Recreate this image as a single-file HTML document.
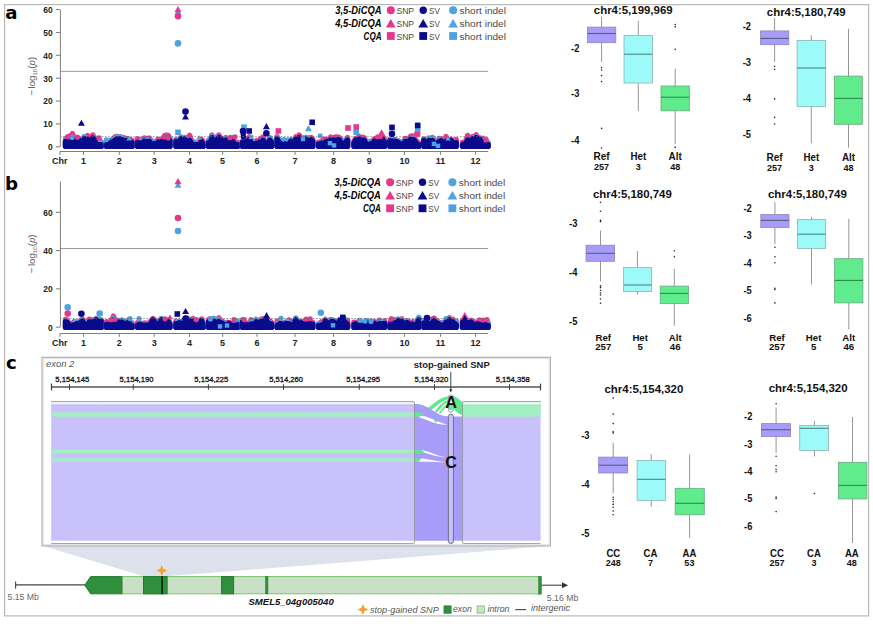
<!DOCTYPE html>
<html lang="en"><head><meta charset="utf-8"><title>GWAS of chlorogenic acids: Manhattan plots, allele boxplots and SMEL5_04g005040 stop-gained SNP</title>
<style>html,body{margin:0;padding:0;background:#fff}svg{display:block}</style></head><body>
<svg width="873" height="624" viewBox="0 0 873 624">
<rect width="873" height="624" fill="#fff"/>
<rect x="4.6" y="4.6" width="864" height="611.3" fill="#fff" stroke="#b9b9b9" stroke-width="1.2"/>
<text x="5.3" y="18.6" font-family='"DejaVu Sans", "Liberation Sans", sans-serif' font-size="18.2" font-weight="bold" fill="#000">a</text>
<line x1="60" y1="71.33" x2="488.2" y2="71.33" stroke="#999" stroke-width="1"/>
<path d="M65.6 146.3L65.6 138.71L67.3 138.41L69 136.54L70.7 140.48L72.4 133.74L74.1 139.73L75.8 139.06L77.5 139.81L79.2 138.97L80.9 140.95L82.6 142.39L84.3 136.9L86 138.46L87.7 135.78L89.4 138.91L91.1 139.71L92.8 135.24L94.5 138.17L96.2 141.44L97.9 142.95L99.6 140.17L101.3 142.21L101.3 146.3Z" fill="#e8368f" stroke="#e8368f" stroke-width="5.6" stroke-linejoin="round"/>
<path d="M65.6 146.3L65.6 140.67L67.3 138.11L69 139.91L70.7 141.44L72.4 139.31L74.1 144.31L75.8 142.94L77.5 140.21L79.2 140.36L80.9 143.6L82.6 142.5L84.3 136.68L86 142.3L87.7 140.71L89.4 141.14L91.1 143L92.8 139L94.5 137.8L96.2 142.38L97.9 143.89L99.6 145.2L101.3 142.56L101.3 146.3Z" fill="#4da3e2" stroke="#4da3e2" stroke-width="5.6" stroke-linejoin="round"/>
<path d="M65.6 146.3L65.6 141.7L67.3 140.61L69 139.26L70.7 143.32L72.4 138.57L74.1 143.01L75.8 142.71L77.5 141.32L79.2 140.6L80.9 142.47L82.6 144.21L84.3 138.59L86 141.76L87.7 139.48L89.4 141.4L91.1 142.15L92.8 138.18L94.5 139.83L96.2 144.74L97.9 144.74L99.6 144.74L101.3 144.73L101.3 146.3Z" fill="#0a0a8c" stroke="#0a0a8c" stroke-width="5.6" stroke-linejoin="round"/>
<path d="M106.6 146.3L106.6 141.98L108.3 141.97L110 140.7L111.7 139.93L113.4 139.43L115.1 136.92L116.8 136.47L118.5 137.48L120.2 136.8L121.9 141.47L123.6 137.64L125.3 140.7L127 138.62L128.7 139.36L130.4 142.94L132.1 140.27L132.1 146.3Z" fill="#e8368f" stroke="#e8368f" stroke-width="5.6" stroke-linejoin="round"/>
<path d="M106.6 146.3L106.6 139.94L108.3 143.31L110 142.62L111.7 140.09L113.4 140.56L115.1 138.83L116.8 137.07L118.5 138.42L120.2 136.89L121.9 144.11L123.6 138.18L125.3 140.65L127 140.96L128.7 141.01L130.4 145.02L132.1 143.12L132.1 146.3Z" fill="#4da3e2" stroke="#4da3e2" stroke-width="5.6" stroke-linejoin="round"/>
<path d="M106.6 146.3L106.6 144.74L108.3 144.74L110 143.84L111.7 142.04L113.4 141.47L115.1 140.22L116.8 138.92L118.5 138.8L120.2 139.08L121.9 143.35L123.6 140.25L125.3 142.36L127 140.67L128.7 142.34L130.4 144.55L132.1 142.82L132.1 146.3Z" fill="#0a0a8c" stroke="#0a0a8c" stroke-width="5.6" stroke-linejoin="round"/>
<path d="M137.6 146.3L137.6 138.76L139.3 142.55L141 140.17L142.7 140.27L144.4 138.08L146.1 138.82L147.8 138.56L149.5 138.35L151.2 141.13L152.9 141.59L154.6 142.33L156.3 142.27L158 139.5L159.7 143.03L161.4 139.68L163.1 140.49L164.8 135.43L166.5 135.29L168.2 135.55L169.9 138.64L169.9 146.3Z" fill="#e8368f" stroke="#e8368f" stroke-width="5.6" stroke-linejoin="round"/>
<path d="M137.6 146.3L137.6 141.87L139.3 143.1L141 141.33L142.7 144.51L144.4 140.47L146.1 140.94L147.8 140.15L149.5 141.02L151.2 144.43L152.9 141.29L154.6 144.61L156.3 143.29L158 141.75L159.7 145.15L161.4 141.31L163.1 144.24L164.8 138.54L166.5 137.24L168.2 138.04L169.9 138.67L169.9 146.3Z" fill="#4da3e2" stroke="#4da3e2" stroke-width="5.6" stroke-linejoin="round"/>
<path d="M137.6 146.3L137.6 142.21L139.3 144.37L141 142.99L142.7 143.44L144.4 141.21L146.1 142.02L147.8 141.5L149.5 141.63L151.2 144.26L152.9 143.99L154.6 143.72L156.3 143.82L158 142.18L159.7 144.74L161.4 142.01L163.1 143.49L164.8 137.77L166.5 139.63L168.2 138.46L169.9 141.01L169.9 146.3Z" fill="#0a0a8c" stroke="#0a0a8c" stroke-width="5.6" stroke-linejoin="round"/>
<path d="M176 146.3L176 139.88L177.7 139.94L179.4 139.13L181.1 137.27L182.8 138.65L184.5 137.59L186.2 140.53L187.9 138.82L189.6 135.41L191.3 140.48L193 142.35L194.7 143.06L196.4 143.36L198.1 142.52L199.8 142.04L201.5 139.56L203.2 141.65L203.2 146.3Z" fill="#e8368f" stroke="#e8368f" stroke-width="5.6" stroke-linejoin="round"/>
<path d="M176 146.3L176 141.07L177.7 142.99L179.4 139.8L181.1 137.27L182.8 141.26L184.5 137.74L186.2 141.85L187.9 144.1L189.6 140.01L191.3 144.46L193 144L194.7 142.27L196.4 144.44L198.1 144.57L199.8 145.2L201.5 142.57L203.2 143.44L203.2 146.3Z" fill="#4da3e2" stroke="#4da3e2" stroke-width="5.6" stroke-linejoin="round"/>
<path d="M176 146.3L176 141.65L177.7 142.05L179.4 141.7L181.1 139L182.8 140.56L184.5 139.13L186.2 143.5L187.9 143.32L189.6 140.49L191.3 143.15L193 144.74L194.7 144.74L196.4 144.74L198.1 144.74L199.8 144.74L201.5 141.65L203.2 144.74L203.2 146.3Z" fill="#0a0a8c" stroke="#0a0a8c" stroke-width="5.6" stroke-linejoin="round"/>
<path d="M208.6 146.3L208.6 140.28L210.3 140.73L212 135.19L213.7 141.27L215.4 141.05L217.1 137.06L218.8 135.2L220.5 137.75L222.2 139.91L223.9 138.81L225.6 137.79L227.3 140.78L229 138.42L230.7 138.29L232.4 138.24L234.1 141.47L235.8 142.55L237.5 142.57L237.5 146.3Z" fill="#e8368f" stroke="#e8368f" stroke-width="5.6" stroke-linejoin="round"/>
<path d="M208.6 146.3L208.6 140.54L210.3 142.76L212 136.23L213.7 144.34L215.4 143.9L217.1 137.07L218.8 139.05L220.5 140.05L222.2 143.55L223.9 141.25L225.6 138.85L227.3 145.2L229 142.92L230.7 139.53L232.4 137.74L234.1 143.86L235.8 145.2L237.5 144.47L237.5 146.3Z" fill="#4da3e2" stroke="#4da3e2" stroke-width="5.6" stroke-linejoin="round"/>
<path d="M208.6 146.3L208.6 142.83L210.3 143.35L212 137.77L213.7 143.79L215.4 142.71L217.1 139.45L218.8 137.77L220.5 139.1L222.2 142.19L223.9 141.15L225.6 140.2L227.3 144.37L229 141.52L230.7 139.7L232.4 140L234.1 144.74L235.8 144.74L237.5 144.74L237.5 146.3Z" fill="#0a0a8c" stroke="#0a0a8c" stroke-width="5.6" stroke-linejoin="round"/>
<path d="M242.6 146.3L242.6 141.22L244.3 138.77L246 139.32L247.7 139.61L249.4 137.01L251.1 140.09L252.8 141.82L254.5 143.28L256.2 141.07L257.9 142.59L259.6 139.48L261.3 138.69L263 137.2L264.7 142.52L266.4 142.7L268.1 141.8L269.8 137.89L271.5 140.99L271.5 146.3Z" fill="#e8368f" stroke="#e8368f" stroke-width="5.6" stroke-linejoin="round"/>
<path d="M242.6 146.3L242.6 142.46L244.3 144.21L246 141.51L247.7 143.69L249.4 140.28L251.1 141.92L252.8 142.02L254.5 145.2L256.2 143.7L257.9 145.2L259.6 143.18L261.3 141.21L263 140.19L264.7 142.19L266.4 144.81L268.1 141.77L269.8 138.78L271.5 141.65L271.5 146.3Z" fill="#4da3e2" stroke="#4da3e2" stroke-width="5.6" stroke-linejoin="round"/>
<path d="M242.6 146.3L242.6 142.61L244.3 142.97L246 141.88L247.7 142.4L249.4 139.55L251.1 143.01L252.8 144.21L254.5 144.74L256.2 143.33L257.9 144.29L259.6 142.17L261.3 142.53L263 140.4L264.7 144.43L266.4 144.71L268.1 143.45L269.8 140.31L271.5 142.29L271.5 146.3Z" fill="#0a0a8c" stroke="#0a0a8c" stroke-width="5.6" stroke-linejoin="round"/>
<path d="M277.1 146.3L277.1 136.89L278.8 139.4L280.5 140.95L282.2 141.96L283.9 142.49L285.6 142.5L287.3 142.54L289 143.1L290.7 139.72L292.4 139.89L294.1 141.66L295.8 137L297.5 139.7L299.2 135.16L300.9 140.24L302.6 142.82L304.3 137.75L306 137.93L307.7 141.15L309.4 138.06L311.1 137.68L312.8 139.25L312.8 146.3Z" fill="#e8368f" stroke="#e8368f" stroke-width="5.6" stroke-linejoin="round"/>
<path d="M277.1 146.3L277.1 137.85L278.8 140.03L280.5 143.54L282.2 144.8L283.9 139.94L285.6 142.4L287.3 140.31L289 145.2L290.7 141.89L292.4 140.02L294.1 144.93L295.8 140.65L297.5 141.22L299.2 139.32L300.9 142.25L302.6 142.76L304.3 140.45L306 137.31L307.7 144.16L309.4 139.36L311.1 141.02L312.8 142.57L312.8 146.3Z" fill="#4da3e2" stroke="#4da3e2" stroke-width="5.6" stroke-linejoin="round"/>
<path d="M277.1 146.3L277.1 138.99L278.8 142.38L280.5 143.67L282.2 144.74L283.9 144.62L285.6 144L287.3 144.74L289 144.74L290.7 141.44L292.4 141.79L294.1 144.74L295.8 139.25L297.5 141.75L299.2 137.77L300.9 143.14L302.6 144.74L304.3 141.05L306 139.2L307.7 142.96L309.4 141.29L311.1 139.8L312.8 141.62L312.8 146.3Z" fill="#0a0a8c" stroke="#0a0a8c" stroke-width="5.6" stroke-linejoin="round"/>
<path d="M318.6 146.3L318.6 142.23L320.3 142.21L322 141.13L323.7 139.23L325.4 139.49L327.1 139.94L328.8 140.44L330.5 137.3L332.2 141.47L333.9 137.67L335.6 137.16L337.3 137.11L339 137.51L340.7 139.16L342.4 141.54L344.1 141.14L345.8 139.89L347.5 137.79L347.5 146.3Z" fill="#e8368f" stroke="#e8368f" stroke-width="5.6" stroke-linejoin="round"/>
<path d="M318.6 146.3L318.6 143.47L320.3 144.82L322 142.35L323.7 145.04L325.4 142.15L327.1 142.34L328.8 141.69L330.5 140.14L332.2 141.48L333.9 141.81L335.6 141.63L337.3 141.02L339 139.43L340.7 141.1L342.4 145.2L344.1 143.83L345.8 139.7L347.5 139.46L347.5 146.3Z" fill="#4da3e2" stroke="#4da3e2" stroke-width="5.6" stroke-linejoin="round"/>
<path d="M318.6 146.3L318.6 144.09L320.3 144.27L322 143.07L323.7 144.02L325.4 142.21L327.1 141.39L328.8 141.85L330.5 140.13L332.2 142.76L333.9 140.28L335.6 141.59L337.3 140.07L339 139.89L340.7 142.45L342.4 144.74L344.1 143.58L345.8 142.1L347.5 140.16L347.5 146.3Z" fill="#0a0a8c" stroke="#0a0a8c" stroke-width="5.6" stroke-linejoin="round"/>
<path d="M354 146.3L354 141.23L355.7 138.59L357.4 138.56L359.1 136.57L360.8 138.69L362.5 137.31L364.2 137.88L365.9 142.72L367.6 141.94L369.3 142.56L371 141.44L372.7 143.34L374.4 138.95L376.1 138.61L377.8 137.17L379.5 139.92L381.2 136.4L382.9 139.56L384.6 140.71L384.6 146.3Z" fill="#e8368f" stroke="#e8368f" stroke-width="5.6" stroke-linejoin="round"/>
<path d="M354 146.3L354 143.91L355.7 140.72L357.4 141.8L359.1 138.97L360.8 141.11L362.5 140.15L364.2 140.05L365.9 141.98L367.6 141.61L369.3 142.42L371 144.12L372.7 142.36L374.4 141.76L376.1 141.89L377.8 142.81L379.5 139.55L381.2 142.16L382.9 139.42L384.6 140.48L384.6 146.3Z" fill="#4da3e2" stroke="#4da3e2" stroke-width="5.6" stroke-linejoin="round"/>
<path d="M354 146.3L354 142.9L355.7 140.2L357.4 142.96L359.1 139.06L360.8 141.51L362.5 140.33L364.2 140.23L365.9 144.09L367.6 144.74L369.3 144.74L371 143.78L372.7 144.74L374.4 141.08L376.1 143.55L377.8 142.22L379.5 141.3L381.2 140.69L382.9 141.84L384.6 142.58L384.6 146.3Z" fill="#0a0a8c" stroke="#0a0a8c" stroke-width="5.6" stroke-linejoin="round"/>
<path d="M389.9 146.3L389.9 139.36L391.6 138.99L393.3 142.05L395 139.85L396.7 140.72L398.4 141.07L400.1 142.36L401.8 142.53L403.5 142.19L405.2 138.6L406.9 139.41L408.6 141.16L410.3 136.57L412 135.95L413.7 136.72L415.4 139.95L417.1 141.62L418.8 143.18L418.8 146.3Z" fill="#e8368f" stroke="#e8368f" stroke-width="5.6" stroke-linejoin="round"/>
<path d="M389.9 146.3L389.9 141.65L391.6 138.97L393.3 142.78L395 141.08L396.7 142.5L398.4 141L400.1 142.65L401.8 144.76L403.5 142.77L405.2 140.98L406.9 142.63L408.6 143.46L410.3 139.05L412 139.21L413.7 138.46L415.4 142.62L417.1 144.11L418.8 145.2L418.8 146.3Z" fill="#4da3e2" stroke="#4da3e2" stroke-width="5.6" stroke-linejoin="round"/>
<path d="M389.9 146.3L389.9 141.02L391.6 141.01L393.3 143.93L395 141.29L396.7 142.07L398.4 142.51L400.1 144.74L401.8 144.74L403.5 143.82L405.2 141.47L406.9 141.74L408.6 143.67L410.3 139.46L412 140.06L413.7 139.77L415.4 142.1L417.1 144.74L418.8 144.74L418.8 146.3Z" fill="#0a0a8c" stroke="#0a0a8c" stroke-width="5.6" stroke-linejoin="round"/>
<path d="M423.9 146.3L423.9 139.02L425.6 143.41L427.3 142.96L429 138.61L430.7 142.65L432.4 137.54L434.1 140.74L435.8 141.68L437.5 141.34L439.2 138.49L440.9 138.77L442.6 142.41L444.3 143.17L446 136.59L447.7 139.85L449.4 141.61L451.1 139.41L452.8 140.42L454.5 141.4L456.2 139.69L456.2 146.3Z" fill="#e8368f" stroke="#e8368f" stroke-width="5.6" stroke-linejoin="round"/>
<path d="M423.9 146.3L423.9 140.94L425.6 143.2L427.3 145.2L429 138.18L430.7 145.2L432.4 138.53L434.1 142.11L435.8 144.24L437.5 143.32L439.2 139.26L440.9 142.3L442.6 143.13L444.3 144.86L446 141.82L447.7 141.36L449.4 145.11L451.1 140.59L452.8 141.75L454.5 141.75L456.2 143.13L456.2 146.3Z" fill="#4da3e2" stroke="#4da3e2" stroke-width="5.6" stroke-linejoin="round"/>
<path d="M423.9 146.3L423.9 140.57L425.6 144.74L427.3 144.74L429 140.62L430.7 144.74L432.4 140.58L434.1 143.73L435.8 143.31L437.5 143.56L439.2 141.53L440.9 140.78L442.6 144.48L444.3 144.74L446 141.54L447.7 142.93L449.4 143.68L451.1 140.73L452.8 143.13L454.5 143.08L456.2 142.73L456.2 146.3Z" fill="#0a0a8c" stroke="#0a0a8c" stroke-width="5.6" stroke-linejoin="round"/>
<path d="M462.6 146.3L462.6 142.46L464.3 142.69L466 141.12L467.7 135.71L469.4 139.45L471.1 139.37L472.8 136.63L474.5 139.17L476.2 134.92L477.9 139.74L479.6 137.88L481.3 139.51L483 138.52L484.7 142.28L486.4 141.77L488.1 142.64L488.1 146.3Z" fill="#e8368f" stroke="#e8368f" stroke-width="5.6" stroke-linejoin="round"/>
<path d="M462.6 146.3L462.6 145.2L464.3 144.9L466 142.45L467.7 140.23L469.4 142.93L471.1 142.8L472.8 137.9L474.5 141.8L476.2 136.81L477.9 139.54L479.6 138.73L481.3 143.59L483 141.45L484.7 143.9L486.4 144.97L488.1 143.29L488.1 146.3Z" fill="#4da3e2" stroke="#4da3e2" stroke-width="5.6" stroke-linejoin="round"/>
<path d="M462.6 146.3L462.6 144.74L464.3 144.29L466 143.25L467.7 140.24L469.4 143.37L471.1 141.29L472.8 139.05L474.5 141.69L476.2 137.77L477.9 141.57L479.6 139.21L481.3 142.78L483 142.09L484.7 144.56L486.4 144.74L488.1 144.55L488.1 146.3Z" fill="#0a0a8c" stroke="#0a0a8c" stroke-width="5.6" stroke-linejoin="round"/>
<circle cx="67.5" cy="136.74" r="2.6" fill="#e8368f"/>
<circle cx="72" cy="137.42" r="2.6" fill="#4da3e2"/>
<circle cx="77.5" cy="137.19" r="2.6" fill="#e8368f"/>
<circle cx="99" cy="137.88" r="2.6" fill="#e8368f"/>
<circle cx="164" cy="136.97" r="2.6" fill="#e8368f"/>
<circle cx="168" cy="137.88" r="2.6" fill="#e8368f"/>
<path d="M126.27 140.57L131.73 140.57L129 135.8Z" fill="#4da3e2"/>
<path d="M196.27 139.66L201.73 139.66L199 134.88Z" fill="#4da3e2"/>
<circle cx="230" cy="137.65" r="2.6" fill="#e8368f"/>
<circle cx="235" cy="136.97" r="2.6" fill="#e8368f"/>
<rect x="63.79" y="141.85" width="4.42" height="4.42" fill="#0a0a8c"/>
<rect x="327.79" y="140.93" width="4.42" height="4.42" fill="#4da3e2"/>
<rect x="331.79" y="143.22" width="4.42" height="4.42" fill="#4da3e2"/>
<rect x="431.79" y="141.62" width="4.42" height="4.42" fill="#4da3e2"/>
<rect x="435.79" y="143.68" width="4.42" height="4.42" fill="#4da3e2"/>
<rect x="300.79" y="136.81" width="4.42" height="4.42" fill="#4da3e2"/>
<path d="M445.27 140.57L450.73 140.57L448 135.8Z" fill="#4da3e2"/>
<path d="M484.27 141.03L489.73 141.03L487 136.25Z" fill="#4da3e2"/>
<circle cx="486" cy="139.94" r="2.6" fill="#e8368f"/>
<rect x="248.79" y="134.76" width="4.42" height="4.42" fill="#4da3e2"/>
<circle cx="243.2" cy="134.22" r="2.6" fill="#0a0a8c"/>
<circle cx="243.4" cy="136.97" r="2.6" fill="#0a0a8c"/>
<rect x="317.99" y="133.61" width="4.42" height="4.42" fill="#4da3e2"/>
<line x1="60" y1="136.74" x2="488.2" y2="136.74" stroke="#6e6e6e" stroke-width="0.8" stroke-dasharray="1.6 1.6"/>
<path d="M174.53 14.75L181.47 14.75L178 8.68Z" fill="#4da3e2"/>
<circle cx="178" cy="16.2" r="3.3" fill="#e8368f"/>
<path d="M174.53 12.15L181.47 12.15L178 6.08Z" fill="#e8368f"/>
<circle cx="178" cy="43.4" r="3.3" fill="#4da3e2"/>
<path d="M182.03 119.55L188.97 119.55L185.5 113.48Z" fill="#0a0a8c"/>
<circle cx="185.5" cy="111.6" r="3.3" fill="#0a0a8c"/>
<path d="M77.94 125.75L84.87 125.75L81.4 119.68Z" fill="#0a0a8c"/>
<rect x="175.19" y="129.5" width="5.61" height="5.61" fill="#4da3e2"/>
<rect x="241.19" y="124.4" width="5.61" height="5.61" fill="#4da3e2"/>
<circle cx="243" cy="131" r="3.3" fill="#0a0a8c"/>
<rect x="246.39" y="128.19" width="5.61" height="5.61" fill="#0a0a8c"/>
<circle cx="266.4" cy="133.2" r="3.3" fill="#0a0a8c"/>
<path d="M262.94 129.15L269.86 129.15L266.4 123.08Z" fill="#0a0a8c"/>
<rect x="275.59" y="128.19" width="5.61" height="5.61" fill="#e8368f"/>
<path d="M304.94 131.15L311.86 131.15L308.4 125.08Z" fill="#4da3e2"/>
<rect x="309.39" y="119.5" width="5.61" height="5.61" fill="#0a0a8c"/>
<rect x="345.19" y="125.19" width="5.61" height="5.61" fill="#e8368f"/>
<rect x="353.39" y="129.39" width="5.61" height="5.61" fill="#4da3e2"/>
<rect x="353.39" y="124.19" width="5.61" height="5.61" fill="#e8368f"/>
<path d="M375.99 139.12L387.21 139.12L381.6 129.31Z" fill="#e8368f"/>
<path d="M380.34 142.05L387.26 142.05L383.8 135.98Z" fill="#0a0a8c"/>
<circle cx="392" cy="133.8" r="3.3" fill="#0a0a8c"/>
<rect x="389.19" y="124.59" width="5.61" height="5.61" fill="#0a0a8c"/>
<circle cx="417.2" cy="134" r="3.3" fill="#e8368f"/>
<rect x="414.89" y="126.39" width="5.61" height="5.61" fill="#4da3e2"/>
<rect x="414.89" y="122.59" width="5.61" height="5.61" fill="#0a0a8c"/>
<line x1="60.4" y1="9.6" x2="60.4" y2="146.8" stroke="#808080" stroke-width="1"/>
<line x1="56" y1="146.8" x2="60" y2="146.8" stroke="#7a7a7a" stroke-width="1"/>
<text x="52.6" y="150.2" font-family='"Liberation Sans", Arial, Helvetica, sans-serif' font-size="9.6" text-anchor="end" font-weight="bold" textLength="4.7" lengthAdjust="spacingAndGlyphs" fill="#222">0</text>
<line x1="56" y1="123.93" x2="60" y2="123.93" stroke="#7a7a7a" stroke-width="1"/>
<text x="52.6" y="127.33" font-family='"Liberation Sans", Arial, Helvetica, sans-serif' font-size="9.6" text-anchor="end" font-weight="bold" textLength="9.3" lengthAdjust="spacingAndGlyphs" fill="#222">10</text>
<line x1="56" y1="101.06" x2="60" y2="101.06" stroke="#7a7a7a" stroke-width="1"/>
<text x="52.6" y="104.46" font-family='"Liberation Sans", Arial, Helvetica, sans-serif' font-size="9.6" text-anchor="end" font-weight="bold" textLength="9.3" lengthAdjust="spacingAndGlyphs" fill="#222">20</text>
<line x1="56" y1="78.19" x2="60" y2="78.19" stroke="#7a7a7a" stroke-width="1"/>
<text x="52.6" y="81.59" font-family='"Liberation Sans", Arial, Helvetica, sans-serif' font-size="9.6" text-anchor="end" font-weight="bold" textLength="9.3" lengthAdjust="spacingAndGlyphs" fill="#222">30</text>
<line x1="56" y1="55.32" x2="60" y2="55.32" stroke="#7a7a7a" stroke-width="1"/>
<text x="52.6" y="58.72" font-family='"Liberation Sans", Arial, Helvetica, sans-serif' font-size="9.6" text-anchor="end" font-weight="bold" textLength="9.3" lengthAdjust="spacingAndGlyphs" fill="#222">40</text>
<line x1="56" y1="32.45" x2="60" y2="32.45" stroke="#7a7a7a" stroke-width="1"/>
<text x="52.6" y="35.85" font-family='"Liberation Sans", Arial, Helvetica, sans-serif' font-size="9.6" text-anchor="end" font-weight="bold" textLength="9.3" lengthAdjust="spacingAndGlyphs" fill="#222">50</text>
<line x1="56" y1="9.58" x2="60" y2="9.58" stroke="#7a7a7a" stroke-width="1"/>
<text x="52.6" y="12.98" font-family='"Liberation Sans", Arial, Helvetica, sans-serif' font-size="9.6" text-anchor="end" font-weight="bold" textLength="9.3" lengthAdjust="spacingAndGlyphs" fill="#222">60</text>
<line x1="60" y1="151.5" x2="488.2" y2="151.5" stroke="#808080" stroke-width="1"/>
<line x1="60" y1="151.4" x2="60" y2="154.8" stroke="#7a7a7a" stroke-width="1"/>
<text x="59.8" y="164.2" font-family='"Liberation Sans", Arial, Helvetica, sans-serif' font-size="9" text-anchor="middle" font-weight="bold" fill="#222">Chr</text>
<line x1="83.5" y1="151.4" x2="83.5" y2="154.8" stroke="#7a7a7a" stroke-width="1"/>
<text x="83.5" y="164.2" font-family='"Liberation Sans", Arial, Helvetica, sans-serif' font-size="9" text-anchor="middle" font-weight="bold" fill="#222">1</text>
<line x1="119.3" y1="151.4" x2="119.3" y2="154.8" stroke="#7a7a7a" stroke-width="1"/>
<text x="119.3" y="164.2" font-family='"Liberation Sans", Arial, Helvetica, sans-serif' font-size="9" text-anchor="middle" font-weight="bold" fill="#222">2</text>
<line x1="154.2" y1="151.4" x2="154.2" y2="154.8" stroke="#7a7a7a" stroke-width="1"/>
<text x="154.2" y="164.2" font-family='"Liberation Sans", Arial, Helvetica, sans-serif' font-size="9" text-anchor="middle" font-weight="bold" fill="#222">3</text>
<line x1="189.5" y1="151.4" x2="189.5" y2="154.8" stroke="#7a7a7a" stroke-width="1"/>
<text x="189.5" y="164.2" font-family='"Liberation Sans", Arial, Helvetica, sans-serif' font-size="9" text-anchor="middle" font-weight="bold" fill="#222">4</text>
<line x1="222.6" y1="151.4" x2="222.6" y2="154.8" stroke="#7a7a7a" stroke-width="1"/>
<text x="222.6" y="164.2" font-family='"Liberation Sans", Arial, Helvetica, sans-serif' font-size="9" text-anchor="middle" font-weight="bold" fill="#222">5</text>
<line x1="257" y1="151.4" x2="257" y2="154.8" stroke="#7a7a7a" stroke-width="1"/>
<text x="257" y="164.2" font-family='"Liberation Sans", Arial, Helvetica, sans-serif' font-size="9" text-anchor="middle" font-weight="bold" fill="#222">6</text>
<line x1="295" y1="151.4" x2="295" y2="154.8" stroke="#7a7a7a" stroke-width="1"/>
<text x="295" y="164.2" font-family='"Liberation Sans", Arial, Helvetica, sans-serif' font-size="9" text-anchor="middle" font-weight="bold" fill="#222">7</text>
<line x1="333.6" y1="151.4" x2="333.6" y2="154.8" stroke="#7a7a7a" stroke-width="1"/>
<text x="333.6" y="164.2" font-family='"Liberation Sans", Arial, Helvetica, sans-serif' font-size="9" text-anchor="middle" font-weight="bold" fill="#222">8</text>
<line x1="369.2" y1="151.4" x2="369.2" y2="154.8" stroke="#7a7a7a" stroke-width="1"/>
<text x="369.2" y="164.2" font-family='"Liberation Sans", Arial, Helvetica, sans-serif' font-size="9" text-anchor="middle" font-weight="bold" fill="#222">9</text>
<line x1="404.4" y1="151.4" x2="404.4" y2="154.8" stroke="#7a7a7a" stroke-width="1"/>
<text x="404.4" y="164.2" font-family='"Liberation Sans", Arial, Helvetica, sans-serif' font-size="9" text-anchor="middle" font-weight="bold" fill="#222">10</text>
<line x1="440.6" y1="151.4" x2="440.6" y2="154.8" stroke="#7a7a7a" stroke-width="1"/>
<text x="440.6" y="164.2" font-family='"Liberation Sans", Arial, Helvetica, sans-serif' font-size="9" text-anchor="middle" font-weight="bold" fill="#222">11</text>
<line x1="475.6" y1="151.4" x2="475.6" y2="154.8" stroke="#7a7a7a" stroke-width="1"/>
<text x="475.6" y="164.2" font-family='"Liberation Sans", Arial, Helvetica, sans-serif' font-size="9" text-anchor="middle" font-weight="bold" fill="#222">12</text>
<text class="ylab" transform="translate(34.9 76.2) rotate(-90)" text-anchor="middle" font-family='"Liberation Sans", Arial, Helvetica, sans-serif' font-size="9.7" fill="#5a5a5a">−<tspan dx="1.4">log</tspan><tspan font-size="6.2" dy="1.7">10</tspan><tspan dy="-1.7">(</tspan><tspan font-style="italic">p</tspan>)</text>
<text x="381.5" y="13.7" font-family='"Liberation Sans", Arial, Helvetica, sans-serif' font-size="10.1" text-anchor="end" font-weight="bold" font-style="italic" textLength="46.3" lengthAdjust="spacingAndGlyphs" fill="#000">3,5-DiCQA</text>
<circle cx="390.8" cy="10.2" r="4" fill="#e8368f"/>
<text x="396.4" y="13.7" font-family='"Liberation Sans", Arial, Helvetica, sans-serif' font-size="9.6" textLength="17.7" lengthAdjust="spacingAndGlyphs" fill="#4a4a4a">SNP</text>
<circle cx="423.2" cy="10.2" r="3.7" fill="#0a0a8c"/>
<text x="429" y="13.7" font-family='"Liberation Sans", Arial, Helvetica, sans-serif' font-size="9.6" textLength="10.9" lengthAdjust="spacingAndGlyphs" fill="#4a4a4a">SV</text>
<circle cx="453.1" cy="10.2" r="4" fill="#4da3e2"/>
<text x="459.5" y="13.7" font-family='"Liberation Sans", Arial, Helvetica, sans-serif' font-size="9.6" textLength="46.4" lengthAdjust="spacingAndGlyphs" fill="#4a4a4a">short indel</text>
<text x="381.5" y="26.7" font-family='"Liberation Sans", Arial, Helvetica, sans-serif' font-size="10.1" text-anchor="end" font-weight="bold" font-style="italic" textLength="46.3" lengthAdjust="spacingAndGlyphs" fill="#000">4,5-DiCQA</text>
<path d="M385.9 27.6L395.7 27.6L390.8 19.03Z" fill="#e8368f"/>
<text x="396.4" y="26.7" font-family='"Liberation Sans", Arial, Helvetica, sans-serif' font-size="9.6" textLength="17.7" lengthAdjust="spacingAndGlyphs" fill="#4a4a4a">SNP</text>
<path d="M418.3 27.6L428.1 27.6L423.2 19.03Z" fill="#0a0a8c"/>
<text x="429" y="26.7" font-family='"Liberation Sans", Arial, Helvetica, sans-serif' font-size="9.6" textLength="10.9" lengthAdjust="spacingAndGlyphs" fill="#4a4a4a">SV</text>
<path d="M448.2 27.6L458 27.6L453.1 19.03Z" fill="#4da3e2"/>
<text x="459.5" y="26.7" font-family='"Liberation Sans", Arial, Helvetica, sans-serif' font-size="9.6" textLength="46.4" lengthAdjust="spacingAndGlyphs" fill="#4a4a4a">short indel</text>
<text x="381.5" y="39.5" font-family='"Liberation Sans", Arial, Helvetica, sans-serif' font-size="10.1" text-anchor="end" font-weight="bold" font-style="italic" textLength="17.9" lengthAdjust="spacingAndGlyphs" fill="#000">CQA</text>
<rect x="386.9" y="32.1" width="7.8" height="7.8" fill="#e8368f"/>
<text x="396.4" y="39.5" font-family='"Liberation Sans", Arial, Helvetica, sans-serif' font-size="9.6" textLength="17.7" lengthAdjust="spacingAndGlyphs" fill="#4a4a4a">SNP</text>
<rect x="419.3" y="32.1" width="7.8" height="7.8" fill="#0a0a8c"/>
<text x="429" y="39.5" font-family='"Liberation Sans", Arial, Helvetica, sans-serif' font-size="9.6" textLength="10.9" lengthAdjust="spacingAndGlyphs" fill="#4a4a4a">SV</text>
<rect x="449.2" y="32.1" width="7.8" height="7.8" fill="#4da3e2"/>
<text x="459.5" y="39.5" font-family='"Liberation Sans", Arial, Helvetica, sans-serif' font-size="9.6" textLength="46.4" lengthAdjust="spacingAndGlyphs" fill="#4a4a4a">short indel</text>
<text x="5" y="189.8" font-family='"DejaVu Sans", "Liberation Sans", sans-serif' font-size="18.2" font-weight="bold" fill="#000">b</text>
<line x1="60" y1="248.49" x2="488.2" y2="248.49" stroke="#999" stroke-width="1"/>
<path d="M65.6 327.3L65.6 319.67L67.3 320.38L69 323.87L70.7 324.36L72.4 323.76L74.1 321.92L75.8 322.75L77.5 322.15L79.2 323.03L80.9 320.22L82.6 319.59L84.3 322.61L86 322.99L87.7 322.03L89.4 319.35L91.1 319.86L92.8 320.02L94.5 320.9L96.2 318.73L97.9 320.57L99.6 319.57L101.3 320.18L101.3 327.3Z" fill="#e8368f" stroke="#e8368f" stroke-width="5.6" stroke-linejoin="round"/>
<path d="M65.6 327.3L65.6 322.81L67.3 321.49L69 325.86L70.7 324.75L72.4 325.64L74.1 323.49L75.8 322.29L77.5 324.55L79.2 323.36L80.9 320.87L82.6 322.27L84.3 325.77L86 322.78L87.7 324.7L89.4 321.77L91.1 322.24L92.8 320.43L94.5 320.9L96.2 319.3L97.9 319.28L99.6 320.23L101.3 321.32L101.3 327.3Z" fill="#4da3e2" stroke="#4da3e2" stroke-width="5.6" stroke-linejoin="round"/>
<path d="M65.6 327.3L65.6 321.86L67.3 322.46L69 325.48L70.7 325.48L72.4 325.45L74.1 324.95L75.8 324.22L77.5 323.49L79.2 325.48L80.9 322.2L82.6 321.29L84.3 325.27L86 324.34L87.7 324.64L89.4 321.94L91.1 322.01L92.8 322.03L94.5 322.53L96.2 319.92L97.9 322.43L99.6 321.97L101.3 321.53L101.3 327.3Z" fill="#0a0a8c" stroke="#0a0a8c" stroke-width="5.6" stroke-linejoin="round"/>
<path d="M106.6 327.3L106.6 321.91L108.3 323.31L110 323.15L111.7 321.77L113.4 316.24L115.1 322.85L116.8 321.45L118.5 320.86L120.2 323.11L121.9 320.07L123.6 321.81L125.3 323.68L127 321.26L128.7 320.43L130.4 323.77L132.1 323.18L132.1 327.3Z" fill="#e8368f" stroke="#e8368f" stroke-width="5.6" stroke-linejoin="round"/>
<path d="M106.6 327.3L106.6 323.7L108.3 324.85L110 325.22L111.7 322.62L113.4 318.39L115.1 325.09L116.8 324.65L118.5 320.31L120.2 323.94L121.9 320.51L123.6 324.35L125.3 324.57L127 322.07L128.7 319.88L130.4 321.94L132.1 324.88L132.1 327.3Z" fill="#4da3e2" stroke="#4da3e2" stroke-width="5.6" stroke-linejoin="round"/>
<path d="M106.6 327.3L106.6 324.37L108.3 324.51L110 324.39L111.7 324.31L113.4 319.92L115.1 324.16L116.8 323.67L118.5 322.21L120.2 325.22L121.9 322.1L123.6 323.43L125.3 325.47L127 323.07L128.7 322.02L130.4 325.48L132.1 325.48L132.1 327.3Z" fill="#0a0a8c" stroke="#0a0a8c" stroke-width="5.6" stroke-linejoin="round"/>
<path d="M137.6 327.3L137.6 322.79L139.3 322.33L141 323.65L142.7 324.31L144.4 323.1L146.1 323.82L147.8 323.27L149.5 323.06L151.2 320.51L152.9 318.76L154.6 320.09L156.3 322.36L158 321.68L159.7 320.97L161.4 318.87L163.1 320.05L164.8 321.29L166.5 320.84L168.2 320.17L169.9 322.58L169.9 327.3Z" fill="#e8368f" stroke="#e8368f" stroke-width="5.6" stroke-linejoin="round"/>
<path d="M137.6 327.3L137.6 325.38L139.3 324.9L141 324.29L142.7 325.86L144.4 324.37L146.1 325.8L147.8 325.49L149.5 323.61L151.2 324.06L152.9 320.98L154.6 321.45L156.3 323.42L158 325L159.7 322.89L161.4 318.55L163.1 323.25L164.8 321.48L166.5 320.97L168.2 320.09L169.9 323.77L169.9 327.3Z" fill="#4da3e2" stroke="#4da3e2" stroke-width="5.6" stroke-linejoin="round"/>
<path d="M137.6 327.3L137.6 325.48L139.3 324.6L141 324.82L142.7 325.48L144.4 325.22L146.1 325.48L147.8 325.26L149.5 325.48L151.2 323.2L152.9 320L154.6 322.38L156.3 324.4L158 324L159.7 323.93L161.4 319.92L163.1 322.48L164.8 323.35L166.5 322.04L168.2 321.58L169.9 324.64L169.9 327.3Z" fill="#0a0a8c" stroke="#0a0a8c" stroke-width="5.6" stroke-linejoin="round"/>
<path d="M176 327.3L176 321.24L177.7 322.59L179.4 321.47L181.1 322.63L182.8 320.9L184.5 320.63L186.2 320.68L187.9 318.65L189.6 320.59L191.3 319.68L193 318.65L194.7 322.78L196.4 324.4L198.1 323.45L199.8 320.59L201.5 319.14L203.2 323.02L203.2 327.3Z" fill="#e8368f" stroke="#e8368f" stroke-width="5.6" stroke-linejoin="round"/>
<path d="M176 327.3L176 324.52L177.7 321.54L179.4 321.83L181.1 324.11L182.8 324.22L184.5 322L186.2 318.11L187.9 321.93L189.6 320.71L191.3 320.4L193 319.9L194.7 324.96L196.4 325.69L198.1 323.67L199.8 322.79L201.5 321.33L203.2 323.32L203.2 327.3Z" fill="#4da3e2" stroke="#4da3e2" stroke-width="5.6" stroke-linejoin="round"/>
<path d="M176 327.3L176 323.82L177.7 323.71L179.4 322.78L181.1 323.78L182.8 323.29L184.5 323.05L186.2 322.04L187.9 321.05L189.6 322.72L191.3 320.98L193 320.79L194.7 325.1L196.4 325.48L198.1 325.11L199.8 323.64L201.5 320.93L203.2 325.27L203.2 327.3Z" fill="#0a0a8c" stroke="#0a0a8c" stroke-width="5.6" stroke-linejoin="round"/>
<path d="M208.6 327.3L208.6 319.7L210.3 318.79L212 321.16L213.7 318.9L215.4 319.7L217.1 321.24L218.8 318.01L220.5 320.64L222.2 321.26L223.9 323.41L225.6 322.99L227.3 322.54L229 322.46L230.7 323.78L232.4 323.59L234.1 323.09L235.8 324L237.5 322.74L237.5 327.3Z" fill="#e8368f" stroke="#e8368f" stroke-width="5.6" stroke-linejoin="round"/>
<path d="M208.6 327.3L208.6 321.42L210.3 319.45L212 321.62L213.7 318.5L215.4 320.33L217.1 322.49L218.8 319.42L220.5 322.52L222.2 323.91L223.9 322.39L225.6 325.86L227.3 325.86L229 324.1L230.7 325.86L232.4 325.86L234.1 325.86L235.8 325.86L237.5 321.19L237.5 327.3Z" fill="#4da3e2" stroke="#4da3e2" stroke-width="5.6" stroke-linejoin="round"/>
<path d="M208.6 327.3L208.6 321.74L210.3 321.31L212 323.08L213.7 321.38L215.4 322.01L217.1 323.82L218.8 321.59L220.5 323.08L222.2 323.06L223.9 324.46L225.6 325.48L227.3 325.48L229 323.58L230.7 325.48L232.4 325.48L234.1 325.48L235.8 325.48L237.5 324.65L237.5 327.3Z" fill="#0a0a8c" stroke="#0a0a8c" stroke-width="5.6" stroke-linejoin="round"/>
<path d="M242.6 327.3L242.6 319.84L244.3 321.33L246 323.23L247.7 323.42L249.4 324.24L251.1 319.94L252.8 323.19L254.5 323.84L256.2 319.52L257.9 321.26L259.6 322.08L261.3 319.18L263 318.84L264.7 320.17L266.4 318.58L268.1 322.76L269.8 321.04L271.5 322.7L271.5 327.3Z" fill="#e8368f" stroke="#e8368f" stroke-width="5.6" stroke-linejoin="round"/>
<path d="M242.6 327.3L242.6 320.5L244.3 323.72L246 325.86L247.7 325.72L249.4 325.29L251.1 322.54L252.8 322.38L254.5 324.03L256.2 319.74L257.9 321.75L259.6 321.83L261.3 319.95L263 321.66L264.7 322.93L266.4 321.4L268.1 322.99L269.8 322.56L271.5 324.71L271.5 327.3Z" fill="#4da3e2" stroke="#4da3e2" stroke-width="5.6" stroke-linejoin="round"/>
<path d="M242.6 327.3L242.6 321.97L244.3 325.48L246 325.48L247.7 324.86L249.4 325.38L251.1 324.08L252.8 324.35L254.5 325.48L256.2 321.85L257.9 322.35L259.6 323.75L261.3 321.48L263 320.67L264.7 322.86L266.4 321.29L268.1 324.79L269.8 323.91L271.5 324.14L271.5 327.3Z" fill="#0a0a8c" stroke="#0a0a8c" stroke-width="5.6" stroke-linejoin="round"/>
<path d="M277.1 327.3L277.1 321.4L278.8 321.18L280.5 321.59L282.2 323.63L283.9 323.7L285.6 322.21L287.3 322.49L289 320.13L290.7 323.32L292.4 322L294.1 321.48L295.8 318.81L297.5 321.3L299.2 321.42L300.9 321.35L302.6 321.88L304.3 321.91L306 320.79L307.7 321.78L309.4 321.35L311.1 321.69L312.8 322.56L312.8 327.3Z" fill="#e8368f" stroke="#e8368f" stroke-width="5.6" stroke-linejoin="round"/>
<path d="M277.1 327.3L277.1 323.88L278.8 324.59L280.5 322.6L282.2 323.96L283.9 325.86L285.6 324.69L287.3 321.49L289 324.23L290.7 325.47L292.4 325.51L294.1 322.75L295.8 318.2L297.5 322.53L299.2 323.08L300.9 323.34L302.6 323.18L304.3 323.93L306 321.73L307.7 322.59L309.4 322L311.1 325.73L312.8 324.84L312.8 327.3Z" fill="#4da3e2" stroke="#4da3e2" stroke-width="5.6" stroke-linejoin="round"/>
<path d="M277.1 327.3L277.1 325.18L278.8 324.84L280.5 323.32L282.2 325.34L283.9 325.48L285.6 323.51L287.3 323.68L289 323.93L290.7 325.48L292.4 325.07L294.1 323.81L295.8 320L297.5 323.78L299.2 323.61L300.9 322.77L302.6 324.66L304.3 323.98L306 322.72L307.7 323.6L309.4 323.1L311.1 324.65L312.8 324.4L312.8 327.3Z" fill="#0a0a8c" stroke="#0a0a8c" stroke-width="5.6" stroke-linejoin="round"/>
<path d="M318.6 327.3L318.6 323.63L320.3 322.74L322 321.66L323.7 323.49L325.4 319.5L327.1 322.04L328.8 320.58L330.5 319.89L332.2 320.01L333.9 320.73L335.6 323.23L337.3 321.13L339 323.48L340.7 323.38L342.4 321.97L344.1 318.83L345.8 321.19L347.5 320.5L347.5 327.3Z" fill="#e8368f" stroke="#e8368f" stroke-width="5.6" stroke-linejoin="round"/>
<path d="M318.6 327.3L318.6 324.02L320.3 323.78L322 324.48L323.7 325.86L325.4 320.19L327.1 321.32L328.8 323.43L330.5 320.58L332.2 321.35L333.9 320.75L335.6 324.17L337.3 323.63L339 320.7L340.7 325.86L342.4 320.09L344.1 319.55L345.8 322.99L347.5 325.1L347.5 327.3Z" fill="#4da3e2" stroke="#4da3e2" stroke-width="5.6" stroke-linejoin="round"/>
<path d="M318.6 327.3L318.6 325.48L320.3 325.48L322 324.84L323.7 325.48L325.4 320.96L327.1 323.55L328.8 323.33L330.5 322.41L332.2 321.29L333.9 322.01L335.6 324.41L337.3 323.49L339 324.57L340.7 324.84L342.4 323.82L344.1 321.29L345.8 323.05L347.5 324.06L347.5 327.3Z" fill="#0a0a8c" stroke="#0a0a8c" stroke-width="5.6" stroke-linejoin="round"/>
<path d="M354 327.3L354 322.34L355.7 322.83L357.4 322.84L359.1 320.86L360.8 323.53L362.5 322.99L364.2 323.93L365.9 320.79L367.6 321.41L369.3 322.75L371 321.42L372.7 321.9L374.4 321.74L376.1 322.7L377.8 323.88L379.5 320.31L381.2 322.63L382.9 322.12L384.6 321L384.6 327.3Z" fill="#e8368f" stroke="#e8368f" stroke-width="5.6" stroke-linejoin="round"/>
<path d="M354 327.3L354 324.67L355.7 324.87L357.4 323.99L359.1 325.05L360.8 325.86L362.5 323.16L364.2 324.4L365.9 320.95L367.6 323.38L369.3 324.68L371 320.97L372.7 323.22L374.4 323.71L376.1 323.72L377.8 323.65L379.5 322.29L381.2 323.03L382.9 322.25L384.6 324.27L384.6 327.3Z" fill="#4da3e2" stroke="#4da3e2" stroke-width="5.6" stroke-linejoin="round"/>
<path d="M354 327.3L354 324.66L355.7 323.95L357.4 324.26L359.1 324.62L360.8 325.37L362.5 325.31L364.2 325.48L365.9 321.95L367.6 323.34L369.3 324.43L371 322.51L372.7 324.22L374.4 323.35L376.1 324.68L377.8 325.2L379.5 323.62L381.2 324.22L382.9 323.84L384.6 323.64L384.6 327.3Z" fill="#0a0a8c" stroke="#0a0a8c" stroke-width="5.6" stroke-linejoin="round"/>
<path d="M389.9 327.3L389.9 323.05L391.6 319.15L393.3 322.09L395 320.07L396.7 323.32L398.4 319.54L400.1 320.34L401.8 319.01L403.5 322.64L405.2 322.83L406.9 320.79L408.6 321.32L410.3 324.06L412 322.31L413.7 321.72L415.4 323.14L417.1 321.59L418.8 317.93L418.8 327.3Z" fill="#e8368f" stroke="#e8368f" stroke-width="5.6" stroke-linejoin="round"/>
<path d="M389.9 327.3L389.9 325.1L391.6 320.98L393.3 322.69L395 321.8L396.7 321.78L398.4 319.1L400.1 320.96L401.8 319.87L403.5 324.53L405.2 324.7L406.9 321.15L408.6 324.18L410.3 323.78L412 324.48L413.7 325.86L415.4 323.41L417.1 322.01L418.8 317.4L418.8 327.3Z" fill="#4da3e2" stroke="#4da3e2" stroke-width="5.6" stroke-linejoin="round"/>
<path d="M389.9 327.3L389.9 324.68L391.6 322.65L393.3 324.08L395 322.97L396.7 324.44L398.4 320.63L400.1 321.7L401.8 321.42L403.5 324.98L405.2 325.48L406.9 322.66L408.6 323.45L410.3 325.11L412 324.07L413.7 325.48L415.4 325.48L417.1 323.58L418.8 319.92L418.8 327.3Z" fill="#0a0a8c" stroke="#0a0a8c" stroke-width="5.6" stroke-linejoin="round"/>
<path d="M423.9 327.3L423.9 320.88L425.6 321.33L427.3 322.28L429 322.48L430.7 321.96L432.4 319.18L434.1 318.44L435.8 321.46L437.5 321.11L439.2 322.9L440.9 323.33L442.6 322.69L444.3 322.75L446 320.16L447.7 322.77L449.4 317.96L451.1 321.1L452.8 319.52L454.5 321.61L456.2 321.24L456.2 327.3Z" fill="#e8368f" stroke="#e8368f" stroke-width="5.6" stroke-linejoin="round"/>
<path d="M423.9 327.3L423.9 321.04L425.6 321.81L427.3 325.52L429 323.28L430.7 322.35L432.4 322.85L434.1 320.83L435.8 323.03L437.5 322.26L439.2 323.73L440.9 324.49L442.6 325.86L444.3 323.58L446 318.89L447.7 324.47L449.4 319.13L451.1 324.98L452.8 321.73L454.5 323.52L456.2 322.21L456.2 327.3Z" fill="#4da3e2" stroke="#4da3e2" stroke-width="5.6" stroke-linejoin="round"/>
<path d="M423.9 327.3L423.9 323.02L425.6 323.23L427.3 324.71L429 323.76L430.7 323.95L432.4 322.62L434.1 320.75L435.8 324.19L437.5 323.03L439.2 324.63L440.9 325L442.6 325.38L444.3 325.48L446 322.34L447.7 325.48L449.4 319.92L451.1 325.07L452.8 322.06L454.5 323.56L456.2 324.81L456.2 327.3Z" fill="#0a0a8c" stroke="#0a0a8c" stroke-width="5.6" stroke-linejoin="round"/>
<path d="M462.6 327.3L462.6 320.87L464.3 322.52L466 319.97L467.7 320.65L469.4 321.26L471.1 320.5L472.8 324.03L474.5 321.81L476.2 322.87L477.9 322.3L479.6 320.3L481.3 322.89L483 322.45L484.7 321.85L486.4 322.95L488.1 322.81L488.1 327.3Z" fill="#e8368f" stroke="#e8368f" stroke-width="5.6" stroke-linejoin="round"/>
<path d="M462.6 327.3L462.6 323.67L464.3 325.32L466 320.88L467.7 321.94L469.4 323.16L471.1 322.16L472.8 323.33L474.5 325.27L476.2 324.99L477.9 324.24L479.6 325.7L481.3 323.15L483 324.3L484.7 322.63L486.4 323.4L488.1 323.37L488.1 327.3Z" fill="#4da3e2" stroke="#4da3e2" stroke-width="5.6" stroke-linejoin="round"/>
<path d="M462.6 327.3L462.6 322.48L464.3 324.09L466 322.73L467.7 322.78L469.4 325.09L471.1 322.08L472.8 325.48L474.5 324.51L476.2 324.52L477.9 323.92L479.6 324.55L481.3 324.48L483 325.02L484.7 323.9L486.4 325.46L488.1 325.48L488.1 327.3Z" fill="#0a0a8c" stroke="#0a0a8c" stroke-width="5.6" stroke-linejoin="round"/>
<circle cx="130" cy="318.58" r="2.6" fill="#4da3e2"/>
<circle cx="139" cy="318.58" r="2.6" fill="#4da3e2"/>
<circle cx="210.4" cy="318.97" r="2.6" fill="#4da3e2"/>
<circle cx="281" cy="318.39" r="2.6" fill="#4da3e2"/>
<path d="M167.27 319.25L172.73 319.25L170 314.47Z" fill="#e8368f"/>
<circle cx="165" cy="318.77" r="2.6" fill="#e8368f"/>
<circle cx="111" cy="319.73" r="2.6" fill="#e8368f"/>
<circle cx="115" cy="319.35" r="2.6" fill="#e8368f"/>
<circle cx="196" cy="319.54" r="2.6" fill="#e8368f"/>
<circle cx="234" cy="319.54" r="2.6" fill="#e8368f"/>
<circle cx="244" cy="319.54" r="2.6" fill="#e8368f"/>
<circle cx="306" cy="319.16" r="2.6" fill="#e8368f"/>
<circle cx="310" cy="318.77" r="2.6" fill="#e8368f"/>
<rect x="330.79" y="323.07" width="4.42" height="4.42" fill="#4da3e2"/>
<circle cx="360" cy="320.31" r="2.6" fill="#4da3e2"/>
<circle cx="365" cy="321.07" r="2.6" fill="#4da3e2"/>
<circle cx="371" cy="321.45" r="2.6" fill="#4da3e2"/>
<circle cx="391" cy="319.16" r="2.6" fill="#e8368f"/>
<circle cx="487" cy="319.54" r="2.6" fill="#e8368f"/>
<circle cx="483" cy="320.11" r="2.6" fill="#e8368f"/>
<rect x="217.79" y="324.22" width="4.42" height="4.42" fill="#4da3e2"/>
<rect x="224.79" y="323.27" width="4.42" height="4.42" fill="#4da3e2"/>
<line x1="60" y1="318.58" x2="488.2" y2="318.58" stroke="#6e6e6e" stroke-width="0.8" stroke-dasharray="1.6 1.6"/>
<path d="M174.53 187.75L181.47 187.75L178 181.68Z" fill="#4da3e2"/>
<path d="M174.53 184.15L181.47 184.15L178 178.08Z" fill="#e8368f"/>
<circle cx="178" cy="218" r="3.3" fill="#e8368f"/>
<circle cx="178" cy="231" r="3.3" fill="#4da3e2"/>
<circle cx="67.7" cy="313.6" r="3.3" fill="#e8368f"/>
<circle cx="67.7" cy="307.3" r="3.3" fill="#4da3e2"/>
<circle cx="81.4" cy="313.8" r="3.3" fill="#0a0a8c"/>
<circle cx="99.7" cy="313.5" r="3.3" fill="#4da3e2"/>
<rect x="174.5" y="311.19" width="5.61" height="5.61" fill="#0a0a8c"/>
<circle cx="185.6" cy="318.6" r="3.3" fill="#0a0a8c"/>
<path d="M182.13 313.95L189.06 313.95L185.6 307.88Z" fill="#0a0a8c"/>
<path d="M263.14 318.15L270.06 318.15L266.6 312.08Z" fill="#0a0a8c"/>
<path d="M263.14 321.15L270.06 321.15L266.6 315.08Z" fill="#0a0a8c"/>
<circle cx="320.8" cy="312.8" r="3.3" fill="#4da3e2"/>
<circle cx="427" cy="318" r="3.3" fill="#0a0a8c"/>
<path d="M461.34 317.95L468.26 317.95L464.8 311.88Z" fill="#e8368f"/>
<path d="M461.34 321.15L468.26 321.15L464.8 315.08Z" fill="#0a0a8c"/>
<rect x="340" y="314.59" width="5.61" height="5.61" fill="#0a0a8c"/>
<path d="M335.54 322.55L342.46 322.55L339 316.48Z" fill="#0a0a8c"/>
<line x1="60.4" y1="181.5" x2="60.4" y2="327.2" stroke="#808080" stroke-width="1"/>
<line x1="56" y1="327.2" x2="60" y2="327.2" stroke="#7a7a7a" stroke-width="1"/>
<text x="52.6" y="330.6" font-family='"Liberation Sans", Arial, Helvetica, sans-serif' font-size="9.6" text-anchor="end" font-weight="bold" textLength="4.7" lengthAdjust="spacingAndGlyphs" fill="#222">0</text>
<line x1="56" y1="288.9" x2="60" y2="288.9" stroke="#7a7a7a" stroke-width="1"/>
<text x="52.6" y="292.3" font-family='"Liberation Sans", Arial, Helvetica, sans-serif' font-size="9.6" text-anchor="end" font-weight="bold" textLength="9.3" lengthAdjust="spacingAndGlyphs" fill="#222">20</text>
<line x1="56" y1="250.6" x2="60" y2="250.6" stroke="#7a7a7a" stroke-width="1"/>
<text x="52.6" y="254" font-family='"Liberation Sans", Arial, Helvetica, sans-serif' font-size="9.6" text-anchor="end" font-weight="bold" textLength="9.3" lengthAdjust="spacingAndGlyphs" fill="#222">40</text>
<line x1="56" y1="212.3" x2="60" y2="212.3" stroke="#7a7a7a" stroke-width="1"/>
<text x="52.6" y="215.7" font-family='"Liberation Sans", Arial, Helvetica, sans-serif' font-size="9.6" text-anchor="end" font-weight="bold" textLength="9.3" lengthAdjust="spacingAndGlyphs" fill="#222">60</text>
<line x1="60" y1="333.5" x2="488.2" y2="333.5" stroke="#808080" stroke-width="1"/>
<line x1="60" y1="333.4" x2="60" y2="336.8" stroke="#7a7a7a" stroke-width="1"/>
<text x="59.8" y="346.2" font-family='"Liberation Sans", Arial, Helvetica, sans-serif' font-size="9" text-anchor="middle" font-weight="bold" fill="#222">Chr</text>
<line x1="83.5" y1="333.4" x2="83.5" y2="336.8" stroke="#7a7a7a" stroke-width="1"/>
<text x="83.5" y="346.2" font-family='"Liberation Sans", Arial, Helvetica, sans-serif' font-size="9" text-anchor="middle" font-weight="bold" fill="#222">1</text>
<line x1="119.3" y1="333.4" x2="119.3" y2="336.8" stroke="#7a7a7a" stroke-width="1"/>
<text x="119.3" y="346.2" font-family='"Liberation Sans", Arial, Helvetica, sans-serif' font-size="9" text-anchor="middle" font-weight="bold" fill="#222">2</text>
<line x1="154.2" y1="333.4" x2="154.2" y2="336.8" stroke="#7a7a7a" stroke-width="1"/>
<text x="154.2" y="346.2" font-family='"Liberation Sans", Arial, Helvetica, sans-serif' font-size="9" text-anchor="middle" font-weight="bold" fill="#222">3</text>
<line x1="189.5" y1="333.4" x2="189.5" y2="336.8" stroke="#7a7a7a" stroke-width="1"/>
<text x="189.5" y="346.2" font-family='"Liberation Sans", Arial, Helvetica, sans-serif' font-size="9" text-anchor="middle" font-weight="bold" fill="#222">4</text>
<line x1="222.6" y1="333.4" x2="222.6" y2="336.8" stroke="#7a7a7a" stroke-width="1"/>
<text x="222.6" y="346.2" font-family='"Liberation Sans", Arial, Helvetica, sans-serif' font-size="9" text-anchor="middle" font-weight="bold" fill="#222">5</text>
<line x1="257" y1="333.4" x2="257" y2="336.8" stroke="#7a7a7a" stroke-width="1"/>
<text x="257" y="346.2" font-family='"Liberation Sans", Arial, Helvetica, sans-serif' font-size="9" text-anchor="middle" font-weight="bold" fill="#222">6</text>
<line x1="295" y1="333.4" x2="295" y2="336.8" stroke="#7a7a7a" stroke-width="1"/>
<text x="295" y="346.2" font-family='"Liberation Sans", Arial, Helvetica, sans-serif' font-size="9" text-anchor="middle" font-weight="bold" fill="#222">7</text>
<line x1="333.6" y1="333.4" x2="333.6" y2="336.8" stroke="#7a7a7a" stroke-width="1"/>
<text x="333.6" y="346.2" font-family='"Liberation Sans", Arial, Helvetica, sans-serif' font-size="9" text-anchor="middle" font-weight="bold" fill="#222">8</text>
<line x1="369.2" y1="333.4" x2="369.2" y2="336.8" stroke="#7a7a7a" stroke-width="1"/>
<text x="369.2" y="346.2" font-family='"Liberation Sans", Arial, Helvetica, sans-serif' font-size="9" text-anchor="middle" font-weight="bold" fill="#222">9</text>
<line x1="404.4" y1="333.4" x2="404.4" y2="336.8" stroke="#7a7a7a" stroke-width="1"/>
<text x="404.4" y="346.2" font-family='"Liberation Sans", Arial, Helvetica, sans-serif' font-size="9" text-anchor="middle" font-weight="bold" fill="#222">10</text>
<line x1="440.6" y1="333.4" x2="440.6" y2="336.8" stroke="#7a7a7a" stroke-width="1"/>
<text x="440.6" y="346.2" font-family='"Liberation Sans", Arial, Helvetica, sans-serif' font-size="9" text-anchor="middle" font-weight="bold" fill="#222">11</text>
<line x1="475.6" y1="333.4" x2="475.6" y2="336.8" stroke="#7a7a7a" stroke-width="1"/>
<text x="475.6" y="346.2" font-family='"Liberation Sans", Arial, Helvetica, sans-serif' font-size="9" text-anchor="middle" font-weight="bold" fill="#222">12</text>
<text class="ylab" transform="translate(34.9 253.8) rotate(-90)" text-anchor="middle" font-family='"Liberation Sans", Arial, Helvetica, sans-serif' font-size="9.7" fill="#5a5a5a">−<tspan dx="1.4">log</tspan><tspan font-size="6.2" dy="1.7">10</tspan><tspan dy="-1.7">(</tspan><tspan font-style="italic">p</tspan>)</text>
<text x="380.8" y="185.7" font-family='"Liberation Sans", Arial, Helvetica, sans-serif' font-size="10.1" text-anchor="end" font-weight="bold" font-style="italic" textLength="46.3" lengthAdjust="spacingAndGlyphs" fill="#000">3,5-DiCQA</text>
<circle cx="390.1" cy="182.2" r="4" fill="#e8368f"/>
<text x="395.7" y="185.7" font-family='"Liberation Sans", Arial, Helvetica, sans-serif' font-size="9.6" textLength="17.7" lengthAdjust="spacingAndGlyphs" fill="#4a4a4a">SNP</text>
<circle cx="422.5" cy="182.2" r="3.7" fill="#0a0a8c"/>
<text x="428.3" y="185.7" font-family='"Liberation Sans", Arial, Helvetica, sans-serif' font-size="9.6" textLength="10.9" lengthAdjust="spacingAndGlyphs" fill="#4a4a4a">SV</text>
<circle cx="452.4" cy="182.2" r="4" fill="#4da3e2"/>
<text x="458.8" y="185.7" font-family='"Liberation Sans", Arial, Helvetica, sans-serif' font-size="9.6" textLength="46.4" lengthAdjust="spacingAndGlyphs" fill="#4a4a4a">short indel</text>
<text x="380.8" y="198.7" font-family='"Liberation Sans", Arial, Helvetica, sans-serif' font-size="10.1" text-anchor="end" font-weight="bold" font-style="italic" textLength="46.3" lengthAdjust="spacingAndGlyphs" fill="#000">4,5-DiCQA</text>
<path d="M385.2 199.6L395 199.6L390.1 191.03Z" fill="#e8368f"/>
<text x="395.7" y="198.7" font-family='"Liberation Sans", Arial, Helvetica, sans-serif' font-size="9.6" textLength="17.7" lengthAdjust="spacingAndGlyphs" fill="#4a4a4a">SNP</text>
<path d="M417.6 199.6L427.4 199.6L422.5 191.03Z" fill="#0a0a8c"/>
<text x="428.3" y="198.7" font-family='"Liberation Sans", Arial, Helvetica, sans-serif' font-size="9.6" textLength="10.9" lengthAdjust="spacingAndGlyphs" fill="#4a4a4a">SV</text>
<path d="M447.5 199.6L457.3 199.6L452.4 191.03Z" fill="#4da3e2"/>
<text x="458.8" y="198.7" font-family='"Liberation Sans", Arial, Helvetica, sans-serif' font-size="9.6" textLength="46.4" lengthAdjust="spacingAndGlyphs" fill="#4a4a4a">short indel</text>
<text x="380.8" y="211.8" font-family='"Liberation Sans", Arial, Helvetica, sans-serif' font-size="10.1" text-anchor="end" font-weight="bold" font-style="italic" textLength="17.9" lengthAdjust="spacingAndGlyphs" fill="#000">CQA</text>
<rect x="386.2" y="204.4" width="7.8" height="7.8" fill="#e8368f"/>
<text x="395.7" y="211.8" font-family='"Liberation Sans", Arial, Helvetica, sans-serif' font-size="9.6" textLength="17.7" lengthAdjust="spacingAndGlyphs" fill="#4a4a4a">SNP</text>
<rect x="418.6" y="204.4" width="7.8" height="7.8" fill="#0a0a8c"/>
<text x="428.3" y="211.8" font-family='"Liberation Sans", Arial, Helvetica, sans-serif' font-size="9.6" textLength="10.9" lengthAdjust="spacingAndGlyphs" fill="#4a4a4a">SV</text>
<rect x="448.5" y="204.4" width="7.8" height="7.8" fill="#4da3e2"/>
<text x="458.8" y="211.8" font-family='"Liberation Sans", Arial, Helvetica, sans-serif' font-size="9.6" textLength="46.4" lengthAdjust="spacingAndGlyphs" fill="#4a4a4a">short indel</text>
<text x="633.2" y="14.4" font-family='"Liberation Sans", Arial, Helvetica, sans-serif' font-size="11.4" text-anchor="middle" font-weight="bold" textLength="78.8" lengthAdjust="spacingAndGlyphs" fill="#111">chr4:5,199,969</text>
<text x="579.4" y="51.6" font-family='"Liberation Sans", Arial, Helvetica, sans-serif' font-size="10" text-anchor="end" font-weight="bold" textLength="8.3" lengthAdjust="spacingAndGlyphs" fill="#111">-2</text>
<text x="579.4" y="97.4" font-family='"Liberation Sans", Arial, Helvetica, sans-serif' font-size="10" text-anchor="end" font-weight="bold" textLength="8.3" lengthAdjust="spacingAndGlyphs" fill="#111">-3</text>
<text x="579.4" y="143.6" font-family='"Liberation Sans", Arial, Helvetica, sans-serif' font-size="10" text-anchor="end" font-weight="bold" textLength="8.3" lengthAdjust="spacingAndGlyphs" fill="#111">-4</text>
<line x1="601.6" y1="16.7" x2="601.6" y2="62" stroke="#8a8a8a" stroke-width="0.9"/>
<rect x="587.5" y="27.1" width="28.3" height="15.6" fill="#a89cfa" stroke="#8d88b8" stroke-width="0.8"/>
<line x1="587.5" y1="33.5" x2="615.8" y2="33.5" stroke="#55607a" stroke-width="1.1"/>
<circle cx="601.6" cy="67.8" r="0.8" fill="#222"/>
<circle cx="601.6" cy="70" r="0.8" fill="#222"/>
<circle cx="601.6" cy="75.6" r="0.8" fill="#222"/>
<circle cx="601.6" cy="81.6" r="0.8" fill="#222"/>
<circle cx="601.6" cy="128.4" r="0.8" fill="#222"/>
<circle cx="601.6" cy="148" r="0.8" fill="#222"/>
<line x1="638.3" y1="20.8" x2="638.3" y2="111" stroke="#8a8a8a" stroke-width="0.9"/>
<rect x="624" y="35.5" width="28.4" height="47.5" fill="#9cfaf9" stroke="#8ab4b6" stroke-width="0.8"/>
<line x1="624" y1="54.2" x2="652.4" y2="54.2" stroke="#4d8688" stroke-width="1.1"/>
<line x1="675.2" y1="68.6" x2="675.2" y2="144.2" stroke="#8a8a8a" stroke-width="0.9"/>
<rect x="661" y="86" width="28.3" height="24.8" fill="#60ec8d" stroke="#6aa881" stroke-width="0.8"/>
<line x1="661" y1="97.2" x2="689.3" y2="97.2" stroke="#2f8a4c" stroke-width="1.1"/>
<circle cx="675.2" cy="24.5" r="0.8" fill="#222"/>
<circle cx="675.2" cy="26.8" r="0.8" fill="#222"/>
<circle cx="675.2" cy="49.3" r="0.8" fill="#222"/>
<circle cx="675.2" cy="147.4" r="0.8" fill="#222"/>
<text x="601.6" y="159.7" font-family='"Liberation Sans", Arial, Helvetica, sans-serif' font-size="10.8" text-anchor="middle" font-weight="bold" textLength="16.2" lengthAdjust="spacingAndGlyphs" fill="#111">Ref</text>
<text x="601.6" y="169.6" font-family='"Liberation Sans", Arial, Helvetica, sans-serif' font-size="9.9" text-anchor="middle" font-weight="bold" textLength="15.09" lengthAdjust="spacingAndGlyphs" fill="#111">257</text>
<text x="638.3" y="159.7" font-family='"Liberation Sans", Arial, Helvetica, sans-serif' font-size="10.8" text-anchor="middle" font-weight="bold" textLength="15.7" lengthAdjust="spacingAndGlyphs" fill="#111">Het</text>
<text x="638.3" y="169.6" font-family='"Liberation Sans", Arial, Helvetica, sans-serif' font-size="9.9" text-anchor="middle" font-weight="bold" textLength="5.03" lengthAdjust="spacingAndGlyphs" fill="#111">3</text>
<text x="675.2" y="159.7" font-family='"Liberation Sans", Arial, Helvetica, sans-serif' font-size="10.8" text-anchor="middle" font-weight="bold" textLength="13.2" lengthAdjust="spacingAndGlyphs" fill="#111">Alt</text>
<text x="675.2" y="169.6" font-family='"Liberation Sans", Arial, Helvetica, sans-serif' font-size="9.9" text-anchor="middle" font-weight="bold" textLength="10.06" lengthAdjust="spacingAndGlyphs" fill="#111">48</text>
<text x="806.2" y="15.5" font-family='"Liberation Sans", Arial, Helvetica, sans-serif' font-size="11.4" text-anchor="middle" font-weight="bold" textLength="78.8" lengthAdjust="spacingAndGlyphs" fill="#111">chr4:5,180,749</text>
<text x="751" y="30.2" font-family='"Liberation Sans", Arial, Helvetica, sans-serif' font-size="10" text-anchor="end" font-weight="bold" textLength="8.3" lengthAdjust="spacingAndGlyphs" fill="#111">-2</text>
<text x="751" y="66" font-family='"Liberation Sans", Arial, Helvetica, sans-serif' font-size="10" text-anchor="end" font-weight="bold" textLength="8.3" lengthAdjust="spacingAndGlyphs" fill="#111">-3</text>
<text x="751" y="102" font-family='"Liberation Sans", Arial, Helvetica, sans-serif' font-size="10" text-anchor="end" font-weight="bold" textLength="8.3" lengthAdjust="spacingAndGlyphs" fill="#111">-4</text>
<text x="751" y="138.1" font-family='"Liberation Sans", Arial, Helvetica, sans-serif' font-size="10" text-anchor="end" font-weight="bold" textLength="8.3" lengthAdjust="spacingAndGlyphs" fill="#111">-5</text>
<line x1="774.6" y1="17.9" x2="774.6" y2="62" stroke="#8a8a8a" stroke-width="0.9"/>
<rect x="760.5" y="30.9" width="28.3" height="13.8" fill="#a89cfa" stroke="#8d88b8" stroke-width="0.8"/>
<line x1="760.5" y1="38.4" x2="788.8" y2="38.4" stroke="#55607a" stroke-width="1.1"/>
<circle cx="774.6" cy="66.3" r="0.8" fill="#222"/>
<circle cx="774.6" cy="69.2" r="0.8" fill="#222"/>
<circle cx="774.6" cy="98.9" r="0.8" fill="#222"/>
<circle cx="774.6" cy="117.4" r="0.8" fill="#222"/>
<circle cx="774.6" cy="124" r="0.8" fill="#222"/>
<line x1="811.3" y1="35.2" x2="811.3" y2="143.4" stroke="#8a8a8a" stroke-width="0.9"/>
<rect x="797.1" y="40.4" width="28.6" height="66" fill="#9cfaf9" stroke="#8ab4b6" stroke-width="0.8"/>
<line x1="797.1" y1="68" x2="825.7" y2="68" stroke="#4d8688" stroke-width="1.1"/>
<line x1="848.5" y1="28.8" x2="848.5" y2="147.7" stroke="#8a8a8a" stroke-width="0.9"/>
<rect x="834.3" y="76.1" width="28" height="48.2" fill="#60ec8d" stroke="#6aa881" stroke-width="0.8"/>
<line x1="834.3" y1="98.4" x2="862.3" y2="98.4" stroke="#2f8a4c" stroke-width="1.1"/>
<text x="774.6" y="160.9" font-family='"Liberation Sans", Arial, Helvetica, sans-serif' font-size="10.8" text-anchor="middle" font-weight="bold" textLength="16.2" lengthAdjust="spacingAndGlyphs" fill="#111">Ref</text>
<text x="774.6" y="170.5" font-family='"Liberation Sans", Arial, Helvetica, sans-serif' font-size="9.9" text-anchor="middle" font-weight="bold" textLength="15.09" lengthAdjust="spacingAndGlyphs" fill="#111">257</text>
<text x="811.3" y="160.9" font-family='"Liberation Sans", Arial, Helvetica, sans-serif' font-size="10.8" text-anchor="middle" font-weight="bold" textLength="15.7" lengthAdjust="spacingAndGlyphs" fill="#111">Het</text>
<text x="811.3" y="170.5" font-family='"Liberation Sans", Arial, Helvetica, sans-serif' font-size="9.9" text-anchor="middle" font-weight="bold" textLength="5.03" lengthAdjust="spacingAndGlyphs" fill="#111">3</text>
<text x="848.5" y="160.9" font-family='"Liberation Sans", Arial, Helvetica, sans-serif' font-size="10.8" text-anchor="middle" font-weight="bold" textLength="13.2" lengthAdjust="spacingAndGlyphs" fill="#111">Alt</text>
<text x="848.5" y="170.5" font-family='"Liberation Sans", Arial, Helvetica, sans-serif' font-size="9.9" text-anchor="middle" font-weight="bold" textLength="10.06" lengthAdjust="spacingAndGlyphs" fill="#111">48</text>
<text x="632.4" y="197.8" font-family='"Liberation Sans", Arial, Helvetica, sans-serif' font-size="11.4" text-anchor="middle" font-weight="bold" textLength="78.8" lengthAdjust="spacingAndGlyphs" fill="#111">chr4:5,180,749</text>
<text x="577.4" y="226.7" font-family='"Liberation Sans", Arial, Helvetica, sans-serif' font-size="10" text-anchor="end" font-weight="bold" textLength="8.3" lengthAdjust="spacingAndGlyphs" fill="#111">-3</text>
<text x="577.4" y="275.7" font-family='"Liberation Sans", Arial, Helvetica, sans-serif' font-size="10" text-anchor="end" font-weight="bold" textLength="8.3" lengthAdjust="spacingAndGlyphs" fill="#111">-4</text>
<text x="577.4" y="324.7" font-family='"Liberation Sans", Arial, Helvetica, sans-serif' font-size="10" text-anchor="end" font-weight="bold" textLength="8.3" lengthAdjust="spacingAndGlyphs" fill="#111">-5</text>
<line x1="600.5" y1="230.5" x2="600.5" y2="281.5" stroke="#8a8a8a" stroke-width="0.9"/>
<rect x="586" y="245.2" width="28.6" height="16.1" fill="#a89cfa" stroke="#8d88b8" stroke-width="0.8"/>
<line x1="586" y1="253.3" x2="614.6" y2="253.3" stroke="#55607a" stroke-width="1.1"/>
<circle cx="600.5" cy="202.2" r="0.8" fill="#222"/>
<circle cx="600.5" cy="211.2" r="0.8" fill="#222"/>
<circle cx="600.5" cy="220.4" r="0.8" fill="#222"/>
<circle cx="600.5" cy="221.6" r="0.8" fill="#222"/>
<circle cx="600.5" cy="285.9" r="0.8" fill="#222"/>
<circle cx="600.5" cy="287.6" r="0.8" fill="#222"/>
<circle cx="600.5" cy="290.2" r="0.8" fill="#222"/>
<circle cx="600.5" cy="293" r="0.8" fill="#222"/>
<circle cx="600.5" cy="295" r="0.8" fill="#222"/>
<circle cx="600.5" cy="299" r="0.8" fill="#222"/>
<circle cx="600.5" cy="303.2" r="0.8" fill="#222"/>
<line x1="637.4" y1="251" x2="637.4" y2="294.5" stroke="#8a8a8a" stroke-width="0.9"/>
<rect x="623.6" y="267.4" width="27.9" height="24.2" fill="#9cfaf9" stroke="#8ab4b6" stroke-width="0.8"/>
<line x1="623.6" y1="285" x2="651.5" y2="285" stroke="#4d8688" stroke-width="1.1"/>
<line x1="674.3" y1="268.8" x2="674.3" y2="325.7" stroke="#8a8a8a" stroke-width="0.9"/>
<rect x="660.2" y="286.1" width="28.2" height="17.3" fill="#60ec8d" stroke="#6aa881" stroke-width="0.8"/>
<line x1="660.2" y1="293.4" x2="688.4" y2="293.4" stroke="#2f8a4c" stroke-width="1.1"/>
<circle cx="674.3" cy="250.7" r="0.8" fill="#222"/>
<circle cx="674.3" cy="256.7" r="0.8" fill="#222"/>
<text x="603.3" y="340.6" font-family='"Liberation Sans", Arial, Helvetica, sans-serif' font-size="9.7" text-anchor="middle" font-weight="bold" fill="#111">Ref</text>
<text x="603.3" y="350" font-family='"Liberation Sans", Arial, Helvetica, sans-serif' font-size="9.6" text-anchor="middle" font-weight="bold" fill="#111">257</text>
<text x="640.2" y="340.6" font-family='"Liberation Sans", Arial, Helvetica, sans-serif' font-size="9.7" text-anchor="middle" font-weight="bold" fill="#111">Het</text>
<text x="640.2" y="350" font-family='"Liberation Sans", Arial, Helvetica, sans-serif' font-size="9.6" text-anchor="middle" font-weight="bold" fill="#111">5</text>
<text x="675.2" y="340.6" font-family='"Liberation Sans", Arial, Helvetica, sans-serif' font-size="9.7" text-anchor="middle" font-weight="bold" fill="#111">Alt</text>
<text x="675.2" y="350" font-family='"Liberation Sans", Arial, Helvetica, sans-serif' font-size="9.6" text-anchor="middle" font-weight="bold" fill="#111">46</text>
<text x="807.4" y="197.8" font-family='"Liberation Sans", Arial, Helvetica, sans-serif' font-size="11.4" text-anchor="middle" font-weight="bold" textLength="78.8" lengthAdjust="spacingAndGlyphs" fill="#111">chr4:5,180,749</text>
<text x="751.8" y="211.7" font-family='"Liberation Sans", Arial, Helvetica, sans-serif' font-size="10" text-anchor="end" font-weight="bold" textLength="8.3" lengthAdjust="spacingAndGlyphs" fill="#111">-2</text>
<text x="751.8" y="239.1" font-family='"Liberation Sans", Arial, Helvetica, sans-serif' font-size="10" text-anchor="end" font-weight="bold" textLength="8.3" lengthAdjust="spacingAndGlyphs" fill="#111">-3</text>
<text x="751.8" y="266.5" font-family='"Liberation Sans", Arial, Helvetica, sans-serif' font-size="10" text-anchor="end" font-weight="bold" textLength="8.3" lengthAdjust="spacingAndGlyphs" fill="#111">-4</text>
<text x="751.8" y="293.6" font-family='"Liberation Sans", Arial, Helvetica, sans-serif' font-size="10" text-anchor="end" font-weight="bold" textLength="8.3" lengthAdjust="spacingAndGlyphs" fill="#111">-5</text>
<text x="751.8" y="321.5" font-family='"Liberation Sans", Arial, Helvetica, sans-serif' font-size="10" text-anchor="end" font-weight="bold" textLength="8.3" lengthAdjust="spacingAndGlyphs" fill="#111">-6</text>
<line x1="774.9" y1="202.2" x2="774.9" y2="244" stroke="#8a8a8a" stroke-width="0.9"/>
<rect x="760.8" y="214.6" width="28.2" height="13" fill="#a89cfa" stroke="#8d88b8" stroke-width="0.8"/>
<line x1="760.8" y1="220.4" x2="789" y2="220.4" stroke="#55607a" stroke-width="1.1"/>
<circle cx="774.9" cy="247.2" r="0.8" fill="#222"/>
<circle cx="774.9" cy="256.7" r="0.8" fill="#222"/>
<circle cx="774.9" cy="262.8" r="0.8" fill="#222"/>
<circle cx="774.9" cy="288.2" r="0.8" fill="#222"/>
<circle cx="774.9" cy="289.6" r="0.8" fill="#222"/>
<circle cx="774.9" cy="302.9" r="0.8" fill="#222"/>
<line x1="811.5" y1="216.9" x2="811.5" y2="284.4" stroke="#8a8a8a" stroke-width="0.9"/>
<rect x="797.4" y="219.5" width="28.3" height="28.9" fill="#9cfaf9" stroke="#8ab4b6" stroke-width="0.8"/>
<line x1="797.4" y1="234.2" x2="825.7" y2="234.2" stroke="#4d8688" stroke-width="1.1"/>
<line x1="848.8" y1="219" x2="848.8" y2="329.4" stroke="#8a8a8a" stroke-width="0.9"/>
<rect x="834.6" y="258.7" width="28.3" height="44.2" fill="#60ec8d" stroke="#6aa881" stroke-width="0.8"/>
<line x1="834.6" y1="280.4" x2="862.9" y2="280.4" stroke="#2f8a4c" stroke-width="1.1"/>
<text x="777" y="340.6" font-family='"Liberation Sans", Arial, Helvetica, sans-serif' font-size="9.7" text-anchor="middle" font-weight="bold" fill="#111">Ref</text>
<text x="777" y="350" font-family='"Liberation Sans", Arial, Helvetica, sans-serif' font-size="9.6" text-anchor="middle" font-weight="bold" fill="#111">257</text>
<text x="813.6" y="340.6" font-family='"Liberation Sans", Arial, Helvetica, sans-serif' font-size="9.7" text-anchor="middle" font-weight="bold" fill="#111">Het</text>
<text x="813.6" y="350" font-family='"Liberation Sans", Arial, Helvetica, sans-serif' font-size="9.6" text-anchor="middle" font-weight="bold" fill="#111">5</text>
<text x="848.8" y="340.6" font-family='"Liberation Sans", Arial, Helvetica, sans-serif' font-size="9.7" text-anchor="middle" font-weight="bold" fill="#111">Alt</text>
<text x="848.8" y="350" font-family='"Liberation Sans", Arial, Helvetica, sans-serif' font-size="9.6" text-anchor="middle" font-weight="bold" fill="#111">46</text>
<text x="643.9" y="392.7" font-family='"Liberation Sans", Arial, Helvetica, sans-serif' font-size="11.4" text-anchor="middle" font-weight="bold" textLength="78.8" lengthAdjust="spacingAndGlyphs" fill="#111">chr4:5,154,320</text>
<text x="589.5" y="438.9" font-family='"Liberation Sans", Arial, Helvetica, sans-serif' font-size="10" text-anchor="end" font-weight="bold" textLength="8.3" lengthAdjust="spacingAndGlyphs" fill="#111">-3</text>
<text x="589.5" y="487.9" font-family='"Liberation Sans", Arial, Helvetica, sans-serif' font-size="10" text-anchor="end" font-weight="bold" textLength="8.3" lengthAdjust="spacingAndGlyphs" fill="#111">-4</text>
<text x="589.5" y="536.9" font-family='"Liberation Sans", Arial, Helvetica, sans-serif' font-size="10" text-anchor="end" font-weight="bold" textLength="8.3" lengthAdjust="spacingAndGlyphs" fill="#111">-5</text>
<line x1="613.2" y1="442.7" x2="613.2" y2="493.4" stroke="#8a8a8a" stroke-width="0.9"/>
<rect x="598.7" y="457.1" width="28.9" height="15.9" fill="#a89cfa" stroke="#8d88b8" stroke-width="0.8"/>
<line x1="598.7" y1="465.2" x2="627.6" y2="465.2" stroke="#55607a" stroke-width="1.1"/>
<circle cx="613.2" cy="398" r="0.8" fill="#222"/>
<circle cx="613.2" cy="414.1" r="0.8" fill="#222"/>
<circle cx="613.2" cy="423.6" r="0.8" fill="#222"/>
<circle cx="613.2" cy="431.7" r="0.8" fill="#222"/>
<circle cx="613.2" cy="432.9" r="0.8" fill="#222"/>
<circle cx="613.2" cy="497.2" r="0.8" fill="#222"/>
<circle cx="613.2" cy="499.2" r="0.8" fill="#222"/>
<circle cx="613.2" cy="501.8" r="0.8" fill="#222"/>
<circle cx="613.2" cy="504.4" r="0.8" fill="#222"/>
<circle cx="613.2" cy="507.3" r="0.8" fill="#222"/>
<circle cx="613.2" cy="511" r="0.8" fill="#222"/>
<circle cx="613.2" cy="514.8" r="0.8" fill="#222"/>
<line x1="651.2" y1="454.2" x2="651.2" y2="506.7" stroke="#8a8a8a" stroke-width="0.9"/>
<rect x="637.1" y="460.6" width="28.6" height="39.8" fill="#9cfaf9" stroke="#8ab4b6" stroke-width="0.8"/>
<line x1="637.1" y1="479.3" x2="665.7" y2="479.3" stroke="#4d8688" stroke-width="1.1"/>
<line x1="689.6" y1="454.5" x2="689.6" y2="537.9" stroke="#8a8a8a" stroke-width="0.9"/>
<rect x="675.2" y="488.3" width="29.1" height="26.5" fill="#60ec8d" stroke="#6aa881" stroke-width="0.8"/>
<line x1="675.2" y1="503.3" x2="704.3" y2="503.3" stroke="#2f8a4c" stroke-width="1.1"/>
<text x="613.3" y="556.8" font-family='"Liberation Sans", Arial, Helvetica, sans-serif' font-size="10.3" text-anchor="middle" font-weight="bold" textLength="13.8" lengthAdjust="spacingAndGlyphs" fill="#111">CC</text>
<text x="613.3" y="565.9" font-family='"Liberation Sans", Arial, Helvetica, sans-serif' font-size="9.9" text-anchor="middle" font-weight="bold" textLength="15.09" lengthAdjust="spacingAndGlyphs" fill="#111">248</text>
<text x="650.4" y="556.8" font-family='"Liberation Sans", Arial, Helvetica, sans-serif' font-size="10.3" text-anchor="middle" font-weight="bold" textLength="13.8" lengthAdjust="spacingAndGlyphs" fill="#111">CA</text>
<text x="650.4" y="565.9" font-family='"Liberation Sans", Arial, Helvetica, sans-serif' font-size="9.9" text-anchor="middle" font-weight="bold" textLength="5.03" lengthAdjust="spacingAndGlyphs" fill="#111">7</text>
<text x="689.4" y="556.8" font-family='"Liberation Sans", Arial, Helvetica, sans-serif' font-size="10.3" text-anchor="middle" font-weight="bold" textLength="13.8" lengthAdjust="spacingAndGlyphs" fill="#111">AA</text>
<text x="689.4" y="565.9" font-family='"Liberation Sans", Arial, Helvetica, sans-serif' font-size="9.9" text-anchor="middle" font-weight="bold" textLength="10.06" lengthAdjust="spacingAndGlyphs" fill="#111">53</text>
<text x="808.1" y="392.2" font-family='"Liberation Sans", Arial, Helvetica, sans-serif' font-size="11.4" text-anchor="middle" font-weight="bold" textLength="78.8" lengthAdjust="spacingAndGlyphs" fill="#111">chr4:5,154,320</text>
<text x="752.4" y="420.1" font-family='"Liberation Sans", Arial, Helvetica, sans-serif' font-size="10" text-anchor="end" font-weight="bold" textLength="8.3" lengthAdjust="spacingAndGlyphs" fill="#111">-2</text>
<text x="752.4" y="447.5" font-family='"Liberation Sans", Arial, Helvetica, sans-serif' font-size="10" text-anchor="end" font-weight="bold" textLength="8.3" lengthAdjust="spacingAndGlyphs" fill="#111">-3</text>
<text x="752.4" y="474.9" font-family='"Liberation Sans", Arial, Helvetica, sans-serif' font-size="10" text-anchor="end" font-weight="bold" textLength="8.3" lengthAdjust="spacingAndGlyphs" fill="#111">-4</text>
<text x="752.4" y="502.3" font-family='"Liberation Sans", Arial, Helvetica, sans-serif' font-size="10" text-anchor="end" font-weight="bold" textLength="8.3" lengthAdjust="spacingAndGlyphs" fill="#111">-5</text>
<text x="752.4" y="530" font-family='"Liberation Sans", Arial, Helvetica, sans-serif' font-size="10" text-anchor="end" font-weight="bold" textLength="8.3" lengthAdjust="spacingAndGlyphs" fill="#111">-6</text>
<line x1="776.1" y1="407.5" x2="776.1" y2="453" stroke="#8a8a8a" stroke-width="0.9"/>
<rect x="761.4" y="423.6" width="29.1" height="13" fill="#a89cfa" stroke="#8d88b8" stroke-width="0.8"/>
<line x1="761.4" y1="429.7" x2="790.5" y2="429.7" stroke="#55607a" stroke-width="1.1"/>
<circle cx="776.1" cy="403.7" r="0.8" fill="#222"/>
<circle cx="776.1" cy="456.2" r="0.8" fill="#222"/>
<circle cx="776.1" cy="465.8" r="0.8" fill="#222"/>
<circle cx="776.1" cy="469.5" r="0.8" fill="#222"/>
<circle cx="776.1" cy="471.8" r="0.8" fill="#222"/>
<circle cx="776.1" cy="497" r="0.8" fill="#222"/>
<circle cx="776.1" cy="498.4" r="0.8" fill="#222"/>
<circle cx="776.1" cy="511.6" r="0.8" fill="#222"/>
<line x1="814.4" y1="421" x2="814.4" y2="456.5" stroke="#8a8a8a" stroke-width="0.9"/>
<rect x="799.7" y="425.4" width="28.9" height="25.1" fill="#9cfaf9" stroke="#8ab4b6" stroke-width="0.8"/>
<line x1="799.7" y1="428.3" x2="828.6" y2="428.3" stroke="#4d8688" stroke-width="1.1"/>
<circle cx="814.4" cy="493.5" r="0.8" fill="#222"/>
<line x1="852.5" y1="417" x2="852.5" y2="543" stroke="#8a8a8a" stroke-width="0.9"/>
<rect x="838.4" y="462.3" width="28.5" height="36.6" fill="#60ec8d" stroke="#6aa881" stroke-width="0.8"/>
<line x1="838.4" y1="485.4" x2="866.9" y2="485.4" stroke="#2f8a4c" stroke-width="1.1"/>
<text x="777" y="556.8" font-family='"Liberation Sans", Arial, Helvetica, sans-serif' font-size="10.3" text-anchor="middle" font-weight="bold" textLength="13.8" lengthAdjust="spacingAndGlyphs" fill="#111">CC</text>
<text x="777" y="565.9" font-family='"Liberation Sans", Arial, Helvetica, sans-serif' font-size="9.9" text-anchor="middle" font-weight="bold" textLength="15.09" lengthAdjust="spacingAndGlyphs" fill="#111">257</text>
<text x="814" y="556.8" font-family='"Liberation Sans", Arial, Helvetica, sans-serif' font-size="10.3" text-anchor="middle" font-weight="bold" textLength="13.8" lengthAdjust="spacingAndGlyphs" fill="#111">CA</text>
<text x="814" y="565.9" font-family='"Liberation Sans", Arial, Helvetica, sans-serif' font-size="9.9" text-anchor="middle" font-weight="bold" textLength="5.03" lengthAdjust="spacingAndGlyphs" fill="#111">3</text>
<text x="851.8" y="556.8" font-family='"Liberation Sans", Arial, Helvetica, sans-serif' font-size="10.3" text-anchor="middle" font-weight="bold" textLength="13.8" lengthAdjust="spacingAndGlyphs" fill="#111">AA</text>
<text x="851.8" y="565.9" font-family='"Liberation Sans", Arial, Helvetica, sans-serif' font-size="9.9" text-anchor="middle" font-weight="bold" textLength="10.06" lengthAdjust="spacingAndGlyphs" fill="#111">48</text>
<text x="6" y="368.8" font-family='"DejaVu Sans", "Liberation Sans", sans-serif' font-size="18.2" font-weight="bold" fill="#000">c</text>
<path d="M43.5 546L550.6 546L166.6 576.3L143.4 576.3Z" fill="#dde1eb"/>
<rect x="42" y="357.3" width="508.4" height="188.6" fill="#fff" stroke="#a9a9a9" stroke-width="1.1"/>
<rect x="43.3" y="358.6" width="505.8" height="186" fill="none" stroke="#e3e3e3" stroke-width="1"/>
<text x="46" y="367.2" font-family='"Liberation Sans", Arial, Helvetica, sans-serif' font-size="9.5" font-style="italic" textLength="28.2" lengthAdjust="spacingAndGlyphs" fill="#555">exon 2</text>
<line x1="51.5" y1="387" x2="540.5" y2="387" stroke="#555" stroke-width="1.5"/>
<line x1="51.5" y1="383.6" x2="51.5" y2="390.4" stroke="#3c3c3c" stroke-width="1.2"/>
<line x1="540.5" y1="383.6" x2="540.5" y2="390.4" stroke="#3c3c3c" stroke-width="1.2"/>
<line x1="69.5" y1="384.2" x2="69.5" y2="389.8" stroke="#3c3c3c" stroke-width="1"/>
<text x="72.3" y="382.3" font-family='"Liberation Sans", Arial, Helvetica, sans-serif' font-size="7.7" text-anchor="middle" textLength="33.9" lengthAdjust="spacingAndGlyphs" fill="#111" stroke="#111" stroke-width="0.3">5,154,145</text>
<line x1="133.3" y1="384.2" x2="133.3" y2="389.8" stroke="#3c3c3c" stroke-width="1"/>
<text x="136.5" y="382.3" font-family='"Liberation Sans", Arial, Helvetica, sans-serif' font-size="7.7" text-anchor="middle" textLength="33.9" lengthAdjust="spacingAndGlyphs" fill="#111" stroke="#111" stroke-width="0.3">5,154,190</text>
<line x1="208.4" y1="384.2" x2="208.4" y2="389.8" stroke="#3c3c3c" stroke-width="1"/>
<text x="211.3" y="382.3" font-family='"Liberation Sans", Arial, Helvetica, sans-serif' font-size="7.7" text-anchor="middle" textLength="33.9" lengthAdjust="spacingAndGlyphs" fill="#111" stroke="#111" stroke-width="0.3">5,154,225</text>
<line x1="283.5" y1="384.2" x2="283.5" y2="389.8" stroke="#3c3c3c" stroke-width="1"/>
<text x="286.1" y="382.3" font-family='"Liberation Sans", Arial, Helvetica, sans-serif' font-size="7.7" text-anchor="middle" textLength="33.9" lengthAdjust="spacingAndGlyphs" fill="#111" stroke="#111" stroke-width="0.3">5,514,260</text>
<line x1="359.3" y1="384.2" x2="359.3" y2="389.8" stroke="#3c3c3c" stroke-width="1"/>
<text x="363.1" y="382.3" font-family='"Liberation Sans", Arial, Helvetica, sans-serif' font-size="7.7" text-anchor="middle" textLength="33.9" lengthAdjust="spacingAndGlyphs" fill="#111" stroke="#111" stroke-width="0.3">5,154,295</text>
<line x1="434.5" y1="384.2" x2="434.5" y2="389.8" stroke="#3c3c3c" stroke-width="1"/>
<text x="431.4" y="382.3" font-family='"Liberation Sans", Arial, Helvetica, sans-serif' font-size="7.7" text-anchor="middle" textLength="33.9" lengthAdjust="spacingAndGlyphs" fill="#111" stroke="#111" stroke-width="0.3">5,154,320</text>
<line x1="509.5" y1="384.2" x2="509.5" y2="389.8" stroke="#3c3c3c" stroke-width="1"/>
<text x="512.7" y="382.3" font-family='"Liberation Sans", Arial, Helvetica, sans-serif' font-size="7.7" text-anchor="middle" textLength="33.9" lengthAdjust="spacingAndGlyphs" fill="#111" stroke="#111" stroke-width="0.3">5,154,358</text>
<text x="451.8" y="368.4" font-family='"Liberation Sans", Arial, Helvetica, sans-serif' font-size="9.5" text-anchor="middle" font-weight="bold" textLength="76" lengthAdjust="spacingAndGlyphs" fill="#222">stop-gained SNP</text>
<line x1="450.8" y1="371.8" x2="450.8" y2="390" stroke="#333" stroke-width="0.9"/>
<path d="M449.2 389.4L452.4 389.4L450.8 392.2Z" fill="#222"/>
<path d="M414.5 404 C430 404 434 416.4 448.4 416.4 L462.5 416.4 L462.5 540.8 L414.5 540.8Z" fill="#a89cf8"/>
<path d="M414.5 414.3 C432 414 436 397.6 450.8 397.6 C458 397.6 459 403 462.5 404" fill="none" stroke="#5fe88c" stroke-width="3.4"/>
<path d="M436 412 C440 407 443 402.4 448 401.2" fill="none" stroke="#5fe88c" stroke-width="2.4"/>
<path d="M439.5 413.4 C443 409 445 405.6 448.4 404.4" fill="none" stroke="#5fe88c" stroke-width="1.6"/>
<path d="M453.4 399 C458 399.6 460 402.4 462.5 404 L462.5 415 C459 414.6 456 412 453.4 408Z" fill="#5fe88c"/>
<path d="M414.5 404 C430 404 436 416.6 448.4 416.6 L448.4 424.6 C436 424.2 430 412 414.5 412Z" fill="#a89cf8"/>
<path d="M419 415.4 C428 415.4 436 421.6 447.6 424.7 C436 425.2 428 419.6 419 417.2Z" fill="#fff"/>
<path d="M414.5 412 L414.5 416.6 C418 416.6 421 416.4 424 415.2 C421 413.4 418 412.2 414.5 412Z" fill="#5fe88c"/>
<path d="M434.4 419.6 L437.6 421.2 L436.4 422.4 L433.6 420.8Z" fill="#5fe88c"/>
<path d="M414.5 449.8 L420 450 C423 450.6 424 452.4 426 453.2 L421 453.6 L414.5 453.4Z" fill="#5fe88c"/>
<path d="M420.5 450 C430 451 436 456 446 457.2 C436 457 430 454 425.6 453 C424 452 422.6 450.6 420.5 450Z" fill="#fff"/>
<path d="M414.5 458.4 L421 458.6 L419 461.8 L414.5 461.8Z" fill="#5fe88c"/>
<path d="M421 458.6 C430 459.4 436 461.4 446 462.2 C436 462.4 428 461.8 419 461.8Z" fill="#fff"/>
<path d="M51.2 401.6 L413 401.6 Q414.5 401.6 414.5 403.1 L414.5 540.8 L51.2 540.8Z" fill="#c8c1fa"/>
<rect x="51.2" y="401.9" width="363.3" height="2" fill="#f7f6fe"/>
<line x1="51.2" y1="404.2" x2="414.5" y2="404.2" stroke="#efedfc" stroke-width="0.9" stroke-dasharray="1.6 1"/>
<line x1="51.2" y1="405.4" x2="414.5" y2="405.4" stroke="#b3aee0" stroke-width="0.6" stroke-dasharray="0.9 1.3"/>
<rect x="51.2" y="412.4" width="363.3" height="4.3" fill="#a2f0c2"/>
<rect x="51.2" y="449.8" width="363.3" height="3.7" fill="#a2f0c2"/>
<rect x="51.2" y="458.4" width="363.3" height="3.5" fill="#a2f0c2"/>
<path d="M51.2 401.6 L413 401.6 Q414.5 401.6 414.5 403.1 L414.5 542 Q414.5 543.5 413 543.5 L51.2 543.5" fill="none" stroke="#8d8d93" stroke-width="0.8"/>
<path d="M540.6 401.6 L464 401.6 Q462.5 401.6 462.5 403.1 L462.5 540.8 L540.6 540.8Z" fill="#c8c1fa"/>
<rect x="462.5" y="401.8" width="78.1" height="14.9" fill="#a2f0c2"/>
<rect x="462.5" y="401.9" width="78.1" height="2" fill="#f5fdf8"/>
<line x1="462.5" y1="404.2" x2="540.6" y2="404.2" stroke="#e9faf0" stroke-width="0.9" stroke-dasharray="1.6 1"/>
<line x1="462.5" y1="405.4" x2="540.6" y2="405.4" stroke="#8fd3ad" stroke-width="0.6" stroke-dasharray="0.9 1.3"/>
<path d="M540.6 401.6 L464 401.6 Q462.5 401.6 462.5 403.1 L462.5 542 Q462.5 543.5 464 543.5 L540.6 543.5" fill="none" stroke="#8d8d93" stroke-width="0.8"/>
<rect x="448.4" y="394.8" width="5" height="17.4" fill="#fff" stroke="#8a8a8a" stroke-width="0.8" rx="2.4"/>
<rect x="449" y="404.6" width="3.8" height="5.2" fill="#5fe88c"/>
<rect x="448.4" y="414.2" width="5" height="129.3" fill="#c8c1fa" stroke="#5f5f6a" stroke-width="0.8" rx="2.2"/>
<text x="451.1" y="407.7" font-family='"Liberation Sans", Arial, Helvetica, sans-serif' font-size="16.2" text-anchor="middle" font-weight="bold" fill="#111">A</text>
<text x="451" y="468.2" font-family='"Liberation Sans", Arial, Helvetica, sans-serif' font-size="16" text-anchor="middle" font-weight="bold" fill="#111">C</text>
<line x1="15.6" y1="584.9" x2="85" y2="584.9" stroke="#444" stroke-width="1.1"/>
<line x1="15.6" y1="581.4" x2="15.6" y2="588.8" stroke="#444" stroke-width="1.1"/>
<line x1="541" y1="585.2" x2="563" y2="585.2" stroke="#444" stroke-width="1.1"/>
<path d="M562 582.2L568 585.2L562 588.2Z" fill="#333"/>
<rect x="121.9" y="576.6" width="417" height="17.2" fill="#c9e0c6" stroke="#79c46c" stroke-width="1"/>
<path d="M84.8 585.2L90.6 576.6L121.9 576.6L121.9 593.8L90.6 593.8Z" fill="#2f8f3c" stroke="#237a2f" stroke-width="1"/>
<rect x="143.5" y="576.6" width="23.6" height="17.2" fill="#2f8f3c" stroke="#237a2f" stroke-width="1"/>
<rect x="221.6" y="576.6" width="12" height="17.2" fill="#2f8f3c" stroke="#237a2f" stroke-width="1"/>
<rect x="265.7" y="576.6" width="2.2" height="17.2" fill="#2f8f3c" stroke="#237a2f" stroke-width="0.6"/>
<rect x="538.7" y="576.2" width="2.8" height="18" fill="#2f8f3c" stroke="#237a2f" stroke-width="0.4"/>
<line x1="162.1" y1="576.2" x2="162.1" y2="594.2" stroke="#111" stroke-width="1.4"/>
<path d="M161.8 565.1L163.45 568.95L167.3 570.6L163.45 572.25L161.8 576.1L160.15 572.25L156.3 570.6L160.15 568.95Z" fill="#f6a030"/>
<text x="7.4" y="600.2" font-family='"Liberation Sans", Arial, Helvetica, sans-serif' font-size="8.8" textLength="31.5" lengthAdjust="spacingAndGlyphs" fill="#666">5.15 Mb</text>
<text x="546.8" y="600.6" font-family='"Liberation Sans", Arial, Helvetica, sans-serif' font-size="8.8" textLength="31.5" lengthAdjust="spacingAndGlyphs" fill="#666">5.16 Mb</text>
<text x="248.5" y="605.4" font-family='"Liberation Sans", Arial, Helvetica, sans-serif' font-size="9.6" font-weight="bold" font-style="italic" textLength="85.2" lengthAdjust="spacingAndGlyphs" fill="#111">SMEL5_04g005040</text>
<path d="M362.9 604L364.55 607.85L368.4 609.5L364.55 611.15L362.9 615L361.25 611.15L357.4 609.5L361.25 607.85Z" fill="#f6a030"/>
<text x="370" y="612.6" font-family='"Liberation Sans", Arial, Helvetica, sans-serif' font-size="9" font-style="italic" textLength="68.7" lengthAdjust="spacingAndGlyphs" fill="#555">stop-gained SNP</text>
<rect x="444" y="605.9" width="7.1" height="7.3" fill="#2f8f3c" stroke="#237a2f" stroke-width="0.8"/>
<text x="453.1" y="611.8" font-family='"Liberation Sans", Arial, Helvetica, sans-serif' font-size="9" font-style="italic" textLength="18.6" lengthAdjust="spacingAndGlyphs" fill="#555">exon</text>
<rect x="477.1" y="605.9" width="7.3" height="7.3" fill="#c9e0c6" stroke="#79c46c" stroke-width="0.8"/>
<text x="487.5" y="611.8" font-family='"Liberation Sans", Arial, Helvetica, sans-serif' font-size="9" font-style="italic" textLength="22" lengthAdjust="spacingAndGlyphs" fill="#555">intron</text>
<line x1="515.3" y1="609.6" x2="526.1" y2="609.6" stroke="#444" stroke-width="1.1"/>
<text x="531" y="611.4" font-family='"Liberation Sans", Arial, Helvetica, sans-serif' font-size="9" font-style="italic" textLength="39" lengthAdjust="spacingAndGlyphs" fill="#555">intergenic</text>
</svg></body></html>
